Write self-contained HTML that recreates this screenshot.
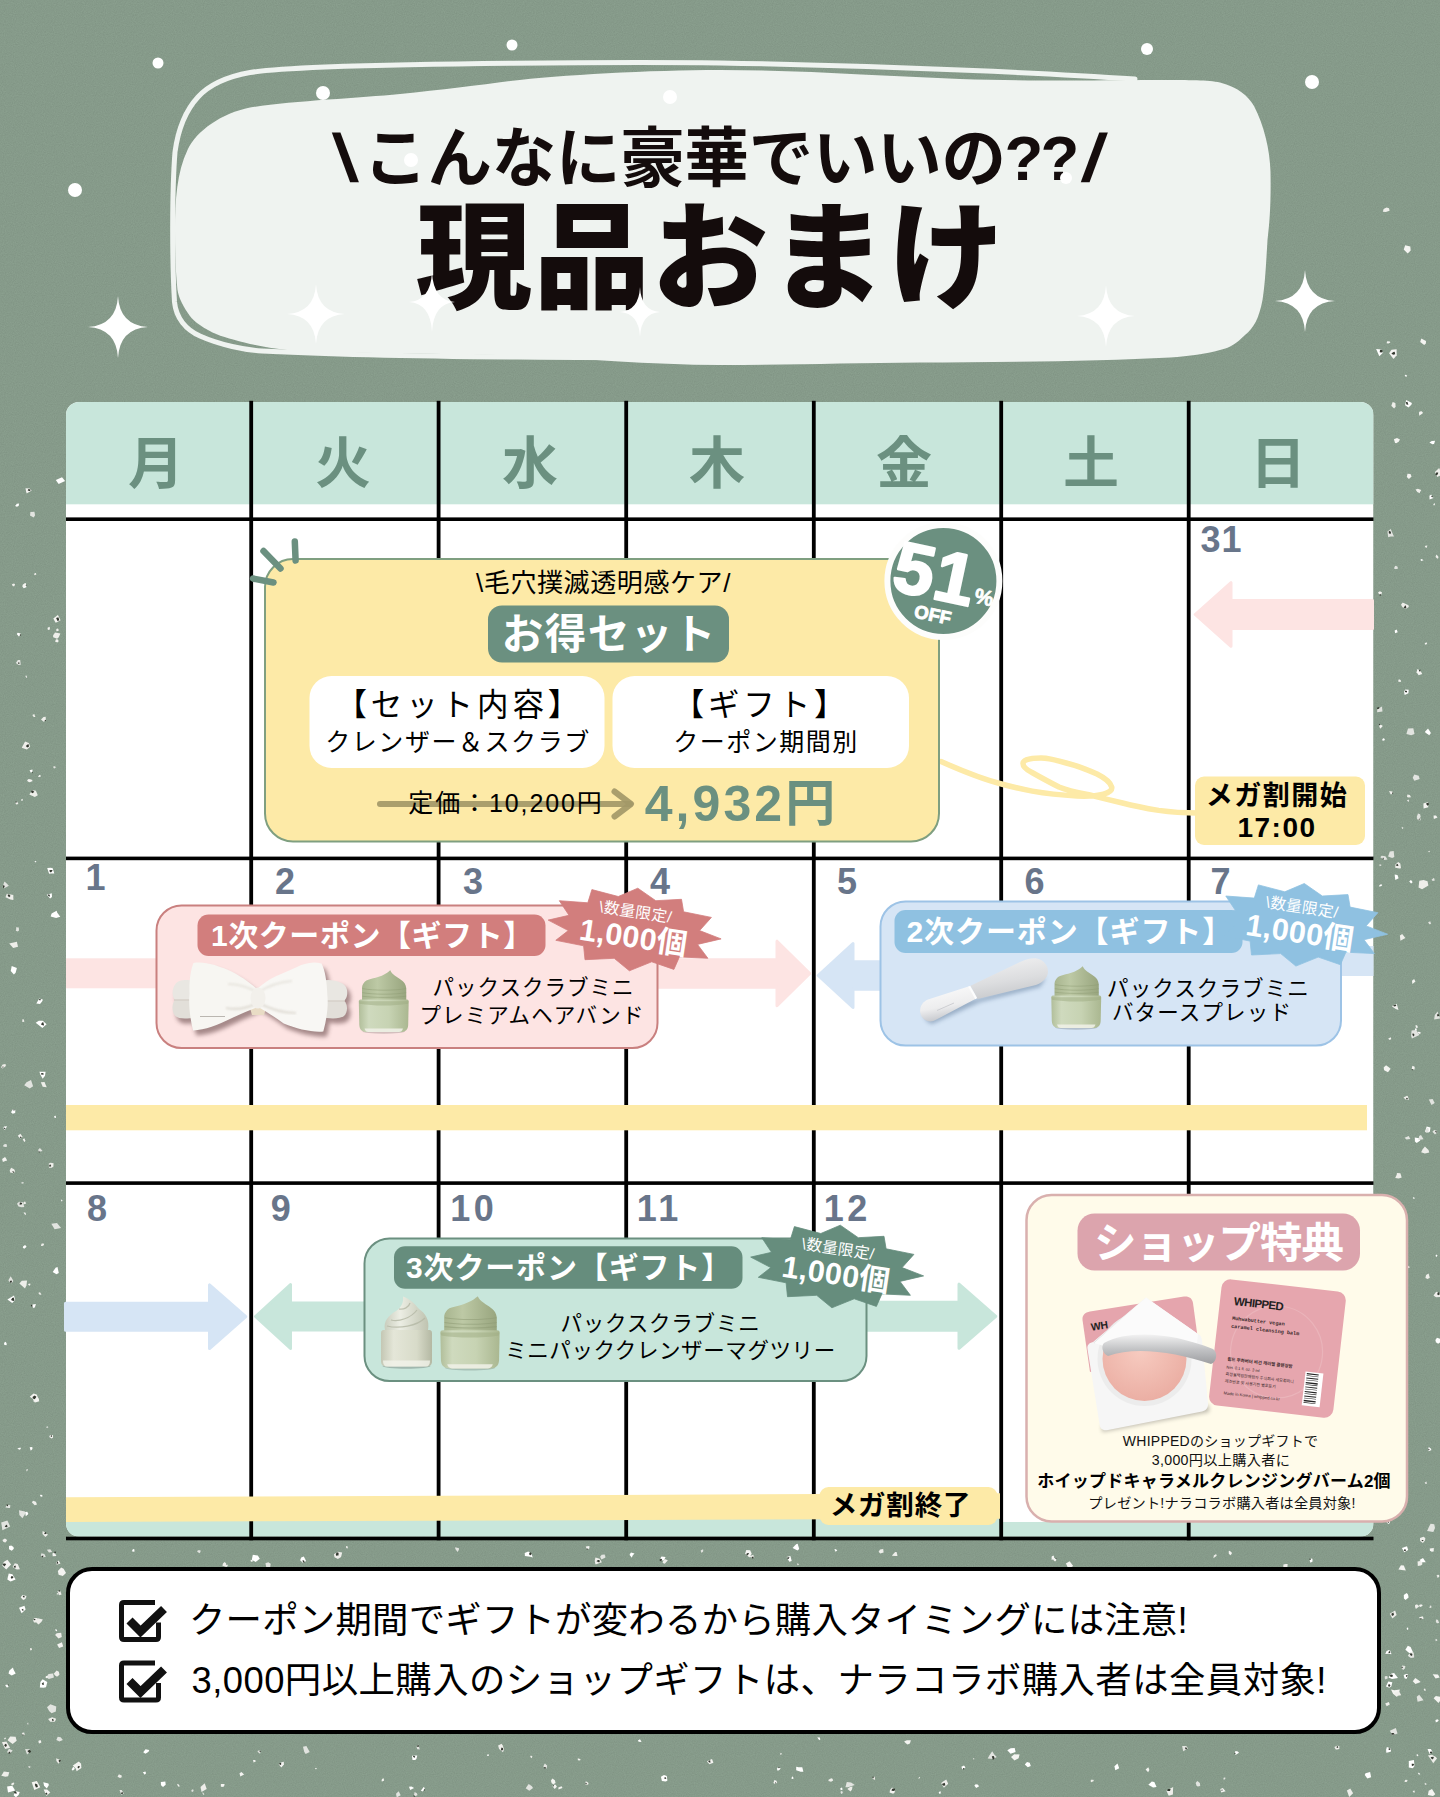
<!DOCTYPE html>
<html lang="ja">
<head>
<meta charset="utf-8">
<title>現品おまけ カレンダー</title>
<style>
html,body{margin:0;padding:0;background:#8a9f8e;}
body{width:1440px;height:1797px;overflow:hidden;}
#stage{position:relative;width:1440px;height:1797px;overflow:hidden;background:#8a9f8e;}
svg{position:absolute;left:0;top:0;display:block;}
text{font-family:"Liberation Sans", "Noto Sans CJK JP", sans-serif;white-space:pre;}
</style>
</head>
<body>
<div id="stage">
<svg width="1440" height="1797" viewBox="0 0 1440 1797">
<defs>
<filter id="grain" x="0" y="0" width="100%" height="100%">
<feTurbulence type="fractalNoise" baseFrequency="0.9" numOctaves="2" seed="3" result="n"/>
<feColorMatrix in="n" type="matrix" values="0 0 0 0 0  0 0 0 0 0  0 0 0 0 0  0.9 0 0 -0.38 0"/>
</filter>
<filter id="soft" x="-20%" y="-20%" width="140%" height="150%">
<feGaussianBlur stdDeviation="2.2"/>
</filter>
<filter id="soft1" x="-20%" y="-20%" width="140%" height="140%">
<feGaussianBlur stdDeviation="0.8"/>
</filter>
</defs>
<rect width="1440" height="1797" fill="#8a9f8e"/>
<rect width="1440" height="1797" fill="#4d6353" opacity="0.10" filter="url(#grain)"/>

<g id="speckles">
<polygon points="33.1,1086.3 29.8,1088.6 24.2,1085.2 26.5,1082.3 31.0,1079.9" fill="#e2e4e0"/>
<polygon points="7.0,1540.8 5.3,1542.4 3.5,1541.9 2.4,1539.9 4.9,1538.4 6.6,1539.5" fill="#eeeeea"/>
<polygon points="32.8,781.1 29.6,782.2 27.8,781.5 27.1,780.2 28.6,778.9 31.4,779.4" fill="#f4f4f1"/>
<polygon points="8.9,885.7 4.3,888.2 2.6,887.1 4.4,881.4 6.2,883.0" fill="#e2e4e0"/>
<polygon points="4.7,886.9 3.1,888.2 2.8,885.6 4.2,885.2" fill="#33382f"/>
<polygon points="65.1,481.1 58.6,484.0 55.8,480.1 62.0,477.3" fill="#ffffff"/>
<polygon points="23.0,800.2 21.7,801.0 21.0,799.7 22.4,798.8" fill="#f4f4f1"/>
<polygon points="13.4,899.9 10.4,899.6 5.5,897.2 6.8,893.7 13.3,895.0" fill="#eeeeea"/>
<polygon points="10.5,895.9 9.1,897.3 7.8,895.8 7.8,894.5 9.3,894.6" fill="#33382f"/>
<polygon points="39.3,1401.2 35.0,1402.4 33.4,1401.3 33.7,1399.1 38.2,1397.7" fill="#f4f4f1"/>
<polygon points="35.6,1401.1 34.4,1401.2 33.9,1400.8 34.2,1399.1 35.1,1400.1" fill="#33382f"/>
<polygon points="42.4,1001.1 40.0,1003.9 36.3,1003.4 39.3,998.5 42.8,999.4" fill="#ffffff"/>
<polygon points="40.7,1000.1 40.0,1000.4 38.9,999.7 39.4,999.0 40.5,998.7" fill="#33382f"/>
<polygon points="19.0,930.5 17.7,931.5 15.8,930.7 16.2,929.2 16.1,927.2 18.8,927.6" fill="#e2e4e0"/>
<polygon points="32.5,1448.9 30.8,1450.7 29.6,1447.2 32.3,1446.9" fill="#ffffff"/>
<polygon points="18.0,946.7 13.2,948.1 9.2,943.4 16.9,941.7" fill="#eeeeea"/>
<polygon points="20.8,664.7 18.6,665.1 15.8,662.9 17.9,660.1 20.2,660.1" fill="#e2e4e0"/>
<polygon points="19.7,663.6 18.7,663.8 18.1,663.7 18.0,662.5 19.3,662.6" fill="#33382f"/>
<polygon points="7.2,1160.6 5.2,1161.1 2.9,1161.9 2.1,1158.9 5.0,1157.1 5.8,1157.9" fill="#f4f4f1"/>
<polygon points="37.0,1504.6 34.7,1505.2 31.8,1502.3 33.2,1500.8 35.9,1501.7" fill="#eeeeea"/>
<polygon points="46.6,1024.3 42.4,1028.0 35.7,1022.8 38.8,1020.7 42.8,1020.7" fill="#ffffff"/>
<polygon points="44.1,1025.5 42.6,1025.2 41.0,1024.6 42.1,1022.6 43.3,1022.3" fill="#33382f"/>
<polygon points="6.7,1344.5 6.4,1345.2 4.1,1344.7 4.1,1342.8 5.6,1341.8 6.5,1342.9" fill="#ffffff"/>
<polygon points="37.8,795.2 34.8,797.1 29.3,794.6 31.0,792.0 32.2,790.1 35.9,790.8" fill="#eeeeea"/>
<polygon points="34.3,791.9 32.3,793.2 31.0,791.9 31.6,790.5 33.0,790.6" fill="#33382f"/>
<polygon points="28.4,1514.0 25.8,1516.2 25.1,1511.9 27.3,1511.7" fill="#ffffff"/>
<polygon points="60.6,620.3 55.7,622.8 53.3,618.6 57.9,615.0" fill="#f4f4f1"/>
<polygon points="59.3,620.2 57.5,620.9 56.1,618.0 58.4,617.2" fill="#33382f"/>
<polygon points="35.3,716.9 33.7,716.9 32.3,714.9 34.3,714.0" fill="#eeeeea"/>
<polygon points="15.0,584.7 14.0,586.6 12.2,585.6 12.0,584.3 13.8,583.6 14.8,583.9" fill="#eeeeea"/>
<polygon points="54.3,873.4 50.9,873.6 49.1,873.8 47.2,868.1 50.9,867.7 52.7,868.2" fill="#ffffff"/>
<polygon points="52.5,870.8 50.9,872.4 49.7,871.7 49.4,870.2 50.6,869.9 52.2,869.9" fill="#33382f"/>
<polygon points="15.6,972.8 13.9,974.4 10.7,971.1 11.7,965.9 16.9,967.9" fill="#ffffff"/>
<polygon points="15.2,1112.9 12.7,1113.7 11.0,1112.2 12.9,1109.2 15.3,1110.0" fill="#ffffff"/>
<polygon points="14.6,1110.2 13.7,1111.1 13.6,1110.0 13.4,1109.3 14.4,1109.6" fill="#33382f"/>
<polygon points="27.2,677.4 26.3,677.9 25.7,676.7 25.2,675.9 26.0,675.5 26.8,675.8" fill="#e2e4e0"/>
<polygon points="26.3,587.2 23.6,588.2 22.4,586.0 24.2,585.1 26.2,584.7" fill="#ffffff"/>
<polygon points="26.5,586.0 25.7,586.1 25.1,585.5 25.4,584.8 26.3,584.6" fill="#33382f"/>
<polygon points="32.5,771.4 30.9,772.7 29.5,770.3 32.5,769.6" fill="#ffffff"/>
<polygon points="32.9,773.0 32.1,773.2 32.1,772.4 32.5,771.7" fill="#33382f"/>
<polygon points="58.8,637.3 57.1,638.7 53.2,637.2 53.0,635.5 55.1,632.4 60.4,633.5" fill="#eeeeea"/>
<polygon points="26.5,1285.2 25.0,1288.6 19.4,1283.4 21.8,1280.8 27.1,1280.6" fill="#eeeeea"/>
<polygon points="41.4,1295.0 39.8,1294.5 39.3,1294.6 38.4,1293.1 39.3,1292.2 40.5,1292.8" fill="#eeeeea"/>
<polygon points="45.0,1075.7 42.7,1078.8 40.3,1074.6 39.4,1071.8 45.6,1071.8" fill="#ffffff"/>
<polygon points="43.8,1074.4 41.5,1074.8 40.9,1073.3 43.2,1073.0" fill="#33382f"/>
<polygon points="26.2,584.9 24.5,587.0 22.5,586.5 22.7,584.7 24.2,583.5 25.8,583.1" fill="#f4f4f1"/>
<polygon points="20.2,635.5 18.9,636.4 16.7,634.1 17.7,632.8 20.7,633.5" fill="#ffffff"/>
<polygon points="21.1,635.2 20.5,635.7 19.8,635.5 19.6,634.9 20.5,634.2 21.1,634.7" fill="#33382f"/>
<polygon points="15.2,1300.1 12.2,1303.0 7.4,1299.6 14.0,1295.6" fill="#ffffff"/>
<polygon points="14.5,1300.4 13.2,1300.9 11.0,1300.1 12.2,1298.0 13.7,1297.4" fill="#33382f"/>
<polygon points="35.0,1307.1 33.8,1308.2 31.7,1305.9 32.6,1304.5 35.9,1303.9" fill="#ffffff"/>
<polygon points="32.8,1306.4 31.3,1306.4 30.8,1304.9 32.1,1304.7" fill="#33382f"/>
<polygon points="13.4,1280.9 11.3,1283.4 8.6,1281.1 8.5,1279.9 10.7,1276.3 12.2,1278.8" fill="#e2e4e0"/>
<polygon points="12.0,1282.0 10.6,1283.2 9.8,1281.1 11.5,1280.6" fill="#33382f"/>
<polygon points="60.3,916.8 56.1,917.9 50.6,916.5 51.6,913.5 56.6,910.8 57.3,912.7" fill="#ffffff"/>
<polygon points="52.0,896.9 50.1,898.6 46.7,894.7 51.8,893.2" fill="#ffffff"/>
<polygon points="50.1,896.2 49.3,896.6 47.9,895.4 48.1,894.5 49.4,894.5" fill="#33382f"/>
<polygon points="58.7,641.3 57.3,642.4 55.0,641.5 56.1,639.2 58.0,639.4" fill="#f4f4f1"/>
<polygon points="28.1,1470.1 26.4,1471.5 26.3,1469.4 27.4,1469.0" fill="#e2e4e0"/>
<polygon points="62.5,1200.9 61.5,1201.6 60.8,1199.5 62.2,1199.9" fill="#ffffff"/>
<polygon points="26.4,1247.0 24.3,1248.7 22.9,1247.7 23.0,1246.6 25.0,1245.1 26.4,1246.3" fill="#ffffff"/>
<polygon points="36.4,574.6 34.7,575.3 34.0,573.9 35.1,572.9 35.8,573.0" fill="#eeeeea"/>
<polygon points="44.1,1245.0 42.4,1245.9 40.9,1246.1 41.6,1243.4 43.7,1243.4" fill="#eeeeea"/>
<polygon points="58.9,630.6 57.8,631.1 56.3,631.3 56.3,628.9 57.6,628.5 58.3,629.1" fill="#eeeeea"/>
<polygon points="23.8,1183.3 21.8,1183.7 21.2,1182.6 23.3,1181.9" fill="#e2e4e0"/>
<polygon points="24.4,1021.7 22.8,1022.0 22.3,1021.9 22.3,1019.8 23.0,1019.1 23.9,1019.7" fill="#eeeeea"/>
<polygon points="55.8,767.6 54.5,768.6 53.6,768.0 53.2,766.4 54.5,766.3 55.2,766.3" fill="#e2e4e0"/>
<polygon points="20.9,1449.0 19.3,1449.7 17.3,1448.5 20.5,1447.5" fill="#ffffff"/>
<polygon points="24.3,1206.9 21.7,1207.2 18.5,1206.5 17.0,1203.8 19.1,1201.7 22.9,1202.2" fill="#e2e4e0"/>
<polygon points="21.9,1204.3 21.0,1204.5 19.6,1204.8 19.8,1202.6 20.7,1202.4 22.1,1203.1" fill="#33382f"/>
<polygon points="61.1,1227.9 54.6,1229.3 51.3,1223.7 57.0,1223.0" fill="#e2e4e0"/>
<polygon points="58.8,1273.0 56.4,1274.2 52.7,1272.1 55.6,1267.8 57.5,1267.1" fill="#ffffff"/>
<polygon points="42.7,1495.9 41.9,1496.7 40.2,1496.3 40.0,1495.4 40.9,1494.4 42.1,1495.3" fill="#ffffff"/>
<polygon points="18.4,803.9 16.1,804.5 15.3,802.4 17.1,801.4" fill="#eeeeea"/>
<polygon points="16.6,802.5 15.8,803.0 15.6,802.5 15.8,801.1 16.4,801.3" fill="#33382f"/>
<polygon points="46.7,1087.3 42.7,1086.7 40.8,1082.2 44.5,1082.0" fill="#eeeeea"/>
<polygon points="25.2,1513.7 22.4,1518.2 19.4,1514.9 19.0,1510.2 25.0,1511.4" fill="#e2e4e0"/>
<polygon points="56.1,1117.7 54.6,1118.0 54.1,1116.1 55.7,1115.7" fill="#ffffff"/>
<polygon points="5.8,1128.5 4.9,1130.0 3.3,1128.3 4.0,1126.4 7.0,1126.3" fill="#ffffff"/>
<polygon points="5.6,1128.4 4.7,1128.9 3.6,1128.4 4.1,1127.8 4.8,1127.8" fill="#33382f"/>
<polygon points="53.3,1166.7 51.7,1167.8 49.0,1167.7 48.8,1163.4 50.7,1162.8 53.6,1163.2" fill="#eeeeea"/>
<polygon points="51.3,1165.9 50.1,1166.8 49.2,1166.5 49.3,1165.1 50.3,1164.3 50.6,1165.1" fill="#33382f"/>
<polygon points="15.1,1171.3 13.8,1173.2 10.2,1172.6 9.7,1170.4 11.1,1167.8 14.1,1169.2" fill="#eeeeea"/>
<polygon points="14.3,1172.1 13.3,1172.9 12.6,1171.9 12.5,1170.9 14.0,1171.7" fill="#33382f"/>
<polygon points="30.4,1284.9 29.2,1285.7 27.9,1284.0 30.2,1283.6" fill="#f4f4f1"/>
<polygon points="47.9,1534.8 45.4,1536.9 42.5,1533.9 42.6,1531.1 46.3,1532.9" fill="#eeeeea"/>
<polygon points="46.8,1533.5 44.9,1534.2 44.2,1533.5 45.3,1532.0 45.9,1532.2" fill="#33382f"/>
<polygon points="30.2,746.7 26.9,749.6 21.7,747.7 25.1,741.4 28.8,742.9" fill="#eeeeea"/>
<polygon points="29.1,746.6 27.2,747.4 25.9,746.1 26.9,745.0 28.4,744.0" fill="#33382f"/>
<polygon points="49.9,629.4 47.9,629.9 47.5,627.7 49.7,626.8" fill="#f4f4f1"/>
<polygon points="22.7,1136.9 20.1,1138.6 17.8,1135.7 20.4,1133.8" fill="#f4f4f1"/>
<polygon points="21.7,1137.8 20.4,1137.9 19.8,1136.9 21.0,1136.4" fill="#33382f"/>
<polygon points="25.5,1141.0 24.2,1142.0 22.8,1139.3 24.3,1138.3" fill="#f4f4f1"/>
<polygon points="36.2,862.2 35.0,862.3 34.5,861.2 36.1,861.0" fill="#ffffff"/>
<polygon points="45.9,720.6 43.6,721.7 41.0,719.5 43.5,717.1 45.7,716.7" fill="#eeeeea"/>
<polygon points="46.0,720.7 45.2,721.2 44.5,720.2 45.7,719.8" fill="#33382f"/>
<polygon points="18.6,506.1 16.9,506.8 15.1,505.9 16.9,503.7 19.1,503.5" fill="#ffffff"/>
<polygon points="42.6,1151.1 38.2,1152.1 38.5,1149.5 39.9,1148.1" fill="#e2e4e0"/>
<polygon points="39.9,1152.3 39.1,1152.6 38.0,1151.4 39.6,1151.5" fill="#33382f"/>
<polygon points="39.0,1400.1 34.7,1401.9 33.0,1398.9 29.8,1396.8 33.5,1393.4 36.7,1394.5" fill="#f4f4f1"/>
<polygon points="35.8,1397.8 34.7,1399.2 32.9,1398.6 32.5,1396.9 34.7,1395.6 36.4,1396.7" fill="#33382f"/>
<polygon points="53.1,1437.4 51.7,1438.5 49.2,1437.0 50.0,1435.1 52.8,1435.1" fill="#f4f4f1"/>
<polygon points="52.1,1436.2 51.4,1437.1 50.7,1436.4 50.6,1435.8 51.4,1435.1 52.0,1435.9" fill="#33382f"/>
<polygon points="26.2,1203.5 23.4,1204.5 23.4,1202.6 25.0,1201.2" fill="#eeeeea"/>
<polygon points="26.1,1214.2 25.2,1214.9 23.5,1212.5 25.3,1212.4" fill="#f4f4f1"/>
<polygon points="5.9,1066.1 2.6,1068.5 1.0,1067.2 2.6,1064.6 5.5,1064.0" fill="#eeeeea"/>
<polygon points="3.6,1067.2 2.6,1067.8 2.3,1067.2 2.6,1066.6 3.4,1066.6" fill="#33382f"/>
<polygon points="41.1,776.2 39.4,777.0 38.0,777.0 39.2,775.1 40.1,775.0" fill="#f4f4f1"/>
<polygon points="52.2,1551.9 48.9,1552.4 46.9,1549.8 50.3,1549.2" fill="#e2e4e0"/>
<polygon points="56.4,1555.9 52.7,1556.3 52.4,1553.5 54.5,1552.4" fill="#f4f4f1"/>
<polygon points="56.0,1552.5 54.6,1553.6 54.2,1552.6 54.7,1551.4 56.1,1551.7" fill="#33382f"/>
<polygon points="10.0,1508.1 8.6,1508.0 5.4,1507.4 7.0,1504.7 10.4,1505.2" fill="#e2e4e0"/>
<polygon points="8.1,1505.3 7.8,1506.2 6.8,1506.0 6.5,1504.6 7.2,1504.5 8.0,1504.4" fill="#33382f"/>
<polygon points="31.7,490.5 26.6,493.4 26.1,491.4 25.5,488.3 29.6,488.5" fill="#f4f4f1"/>
<polygon points="30.2,491.1 29.6,491.1 27.7,490.6 28.2,489.5 28.5,489.0 30.5,489.4" fill="#33382f"/>
<polygon points="7.0,1146.7 5.4,1147.1 3.2,1146.6 3.3,1145.0 5.0,1144.0 6.7,1144.2" fill="#e2e4e0"/>
<polygon points="35.1,515.3 33.7,517.6 30.0,515.4 30.4,512.0 34.4,511.8" fill="#e2e4e0"/>
<polygon points="10.2,1526.5 2.4,1530.3 1.2,1522.5 7.4,1520.4" fill="#e2e4e0"/>
<polygon points="7.6,1526.8 6.4,1527.2 4.7,1526.7 6.0,1525.0 6.9,1524.8" fill="#33382f"/>
<polygon points="48.4,1427.6 46.5,1428.0 46.4,1426.8 47.5,1426.2" fill="#e2e4e0"/>
<polygon points="1402.9,1377.6 1398.6,1380.8 1395.0,1374.7 1399.1,1371.7" fill="#ffffff"/>
<polygon points="1398.3,1501.6 1397.1,1503.2 1395.5,1502.2 1396.6,1500.5 1397.7,1500.0" fill="#e2e4e0"/>
<polygon points="1406.9,376.0 1406.2,377.1 1404.7,375.7 1405.4,374.8 1406.5,374.9" fill="#ffffff"/>
<polygon points="1419.7,779.1 1414.4,780.8 1412.7,777.8 1414.3,774.6 1418.7,775.8" fill="#e2e4e0"/>
<polygon points="1420.8,820.2 1418.1,820.2 1416.7,818.1 1419.7,815.6" fill="#e2e4e0"/>
<polygon points="1420.0,819.2 1418.6,820.3 1418.4,819.0 1419.3,818.0" fill="#33382f"/>
<polygon points="1425.9,343.5 1424.2,345.0 1420.2,342.1 1421.3,338.4 1426.0,340.9" fill="#f4f4f1"/>
<polygon points="1408.4,693.3 1404.7,694.9 1404.0,691.6 1405.4,689.4 1408.7,689.8" fill="#ffffff"/>
<polygon points="1406.8,692.3 1406.1,692.6 1405.1,692.0 1404.9,691.6 1405.4,690.5 1407.1,691.1" fill="#33382f"/>
<polygon points="1434.7,1103.0 1431.5,1105.1 1428.8,1099.4 1432.6,1099.0" fill="#e2e4e0"/>
<polygon points="1437.1,1256.0 1436.9,1256.9 1435.7,1256.2 1435.6,1255.4 1436.4,1254.6 1437.6,1255.4" fill="#ffffff"/>
<polygon points="1390.3,342.4 1388.4,343.5 1386.6,343.2 1387.2,341.2 1387.7,341.2 1389.9,341.4" fill="#f4f4f1"/>
<polygon points="1423.1,413.1 1419.3,415.8 1418.9,412.8 1419.7,411.4 1421.7,411.2" fill="#f4f4f1"/>
<polygon points="1401.0,868.3 1399.4,868.5 1395.2,867.8 1395.5,864.6 1398.1,861.9 1400.3,863.5" fill="#eeeeea"/>
<polygon points="1398.5,865.7 1396.8,866.1 1395.9,865.0 1397.5,863.8" fill="#33382f"/>
<polygon points="1394.9,1220.3 1392.6,1221.7 1389.7,1219.0 1390.9,1217.3 1393.2,1217.0" fill="#f4f4f1"/>
<polygon points="1398.6,878.2 1395.3,879.9 1394.6,874.6 1397.5,874.9" fill="#ffffff"/>
<polygon points="1384.9,739.5 1384.1,740.7 1381.9,740.3 1383.1,738.3 1384.2,738.5" fill="#ffffff"/>
<polygon points="1401.7,1177.6 1398.7,1178.5 1395.2,1178.0 1396.7,1174.8 1397.0,1173.1 1400.4,1173.3" fill="#eeeeea"/>
<polygon points="1428.3,807.3 1423.6,808.4 1423.4,803.5 1428.1,801.9" fill="#f4f4f1"/>
<polygon points="1428.8,804.7 1427.6,805.7 1426.3,804.2 1426.5,803.0 1428.6,802.8" fill="#33382f"/>
<polygon points="1410.4,1139.1 1406.4,1139.5 1404.6,1137.8 1408.7,1135.9" fill="#e2e4e0"/>
<polygon points="1420.7,817.0 1418.4,818.3 1416.6,817.3 1418.0,813.5 1420.1,814.3" fill="#e2e4e0"/>
<polygon points="1426.9,547.2 1426.4,547.9 1424.8,546.8 1425.3,545.8 1427.4,545.4" fill="#eeeeea"/>
<polygon points="1411.4,404.8 1408.5,407.6 1405.1,405.2 1405.4,403.7 1406.2,399.9 1411.9,402.9" fill="#ffffff"/>
<polygon points="1408.4,404.7 1406.4,404.5 1405.9,402.3 1407.4,401.7" fill="#33382f"/>
<polygon points="1423.6,560.3 1421.0,561.1 1420.5,559.5 1421.7,559.1" fill="#ffffff"/>
<polygon points="1426.8,1484.0 1425.5,1484.1 1424.7,1482.4 1426.6,1481.6" fill="#e2e4e0"/>
<polygon points="1414.6,1069.5 1412.9,1069.8 1411.7,1068.8 1412.4,1065.8 1414.7,1066.8" fill="#f4f4f1"/>
<polygon points="1413.5,1070.1 1412.2,1070.2 1411.5,1069.6 1413.0,1069.2" fill="#33382f"/>
<polygon points="1401.0,681.5 1400.3,682.0 1398.1,681.6 1398.6,679.5 1399.9,679.5 1400.9,680.4" fill="#f4f4f1"/>
<polygon points="1420.8,1033.2 1419.5,1033.9 1417.7,1032.8 1418.2,1031.8 1420.3,1032.0" fill="#f4f4f1"/>
<polygon points="1395.6,406.7 1394.1,408.6 1391.3,405.8 1392.7,402.1 1395.4,402.9" fill="#eeeeea"/>
<polygon points="1382.7,352.9 1379.3,356.3 1376.1,348.9 1381.3,349.6" fill="#ffffff"/>
<polygon points="1382.5,352.0 1381.4,352.5 1379.7,352.3 1380.1,349.8 1382.2,350.1" fill="#33382f"/>
<polygon points="1419.6,818.9 1418.1,819.8 1417.7,817.9 1419.3,817.3" fill="#e2e4e0"/>
<polygon points="1415.5,981.5 1412.4,984.1 1412.0,980.7 1414.1,979.1" fill="#f4f4f1"/>
<polygon points="1408.9,801.3 1408.6,802.0 1407.2,800.8 1406.8,800.4 1408.3,799.6 1409.1,800.2" fill="#e2e4e0"/>
<polygon points="1398.5,1010.1 1395.8,1009.0 1392.0,1006.4 1393.6,1005.3 1396.7,1003.8" fill="#f4f4f1"/>
<polygon points="1396.3,1006.0 1394.0,1006.6 1393.1,1005.6 1395.7,1004.6" fill="#33382f"/>
<polygon points="1437.5,817.4 1433.9,819.1 1433.6,817.2 1433.6,815.5 1436.0,815.4" fill="#f4f4f1"/>
<polygon points="1405.6,1293.3 1402.7,1294.7 1402.9,1291.2 1404.9,1290.1" fill="#f4f4f1"/>
<polygon points="1387.5,859.4 1384.2,859.9 1380.4,857.3 1381.5,855.7 1385.4,856.3" fill="#e2e4e0"/>
<polygon points="1383.8,859.0 1382.8,859.9 1382.7,858.1 1383.3,857.5" fill="#33382f"/>
<polygon points="1390.0,1522.8 1388.7,1524.0 1387.1,1522.9 1386.1,1520.8 1387.6,1519.7 1389.7,1519.8" fill="#ffffff"/>
<polygon points="1389.3,1522.3 1388.3,1522.8 1387.9,1522.9 1387.7,1522.0 1388.1,1521.2 1388.9,1521.8" fill="#33382f"/>
<polygon points="1422.2,674.0 1418.6,675.3 1416.6,672.3 1417.4,668.9 1420.5,670.7" fill="#f4f4f1"/>
<polygon points="1420.3,671.4 1419.4,671.5 1418.9,670.2 1420.5,669.6" fill="#33382f"/>
<polygon points="1395.0,1428.4 1394.2,1431.4 1391.2,1429.0 1392.1,1425.2 1396.0,1426.3" fill="#f4f4f1"/>
<polygon points="1408.8,607.1 1405.6,609.1 1402.5,607.2 1401.0,604.8 1402.7,602.5 1408.5,605.3" fill="#eeeeea"/>
<polygon points="1406.3,607.9 1405.6,608.4 1403.6,607.9 1404.9,605.7 1405.9,605.4" fill="#33382f"/>
<polygon points="1425.0,1540.6 1422.9,1543.0 1420.1,1541.1 1420.0,1537.9 1423.5,1536.8 1425.3,1537.9" fill="#eeeeea"/>
<polygon points="1423.7,1540.7 1422.4,1541.3 1421.4,1540.1 1422.8,1539.9" fill="#33382f"/>
<polygon points="1395.1,1250.5 1394.1,1251.0 1392.5,1249.7 1393.7,1248.5 1394.6,1248.5" fill="#ffffff"/>
<polygon points="1410.7,250.5 1407.7,253.6 1403.7,249.4 1405.2,245.3 1410.3,246.5" fill="#f4f4f1"/>
<polygon points="1431.0,924.0 1429.3,924.3 1428.1,922.3 1430.3,921.2" fill="#e2e4e0"/>
<polygon points="1434.8,880.6 1432.8,881.1 1431.5,879.8 1434.0,877.8" fill="#e2e4e0"/>
<polygon points="1399.4,1243.2 1396.0,1247.6 1395.4,1245.2 1394.5,1240.7 1395.5,1240.1 1401.0,1240.7" fill="#f4f4f1"/>
<polygon points="1409.8,1267.6 1408.1,1268.2 1406.9,1267.9 1406.7,1266.6 1407.5,1265.4 1409.4,1266.5" fill="#e2e4e0"/>
<polygon points="1394.0,536.4 1390.5,536.5 1388.2,537.2 1387.4,531.5 1390.8,529.0 1391.8,531.8" fill="#e2e4e0"/>
<polygon points="1391.0,533.0 1390.2,534.0 1388.9,533.3 1388.7,531.8 1389.5,530.8 1390.7,531.8" fill="#33382f"/>
<polygon points="1435.0,1528.1 1433.3,1532.0 1427.1,1530.9 1429.0,1526.8 1430.6,1523.7 1434.3,1524.3" fill="#e2e4e0"/>
<polygon points="1414.5,734.1 1411.2,735.3 1406.4,734.0 1408.0,728.4 1413.3,728.2" fill="#e2e4e0"/>
<polygon points="1430.9,732.9 1429.3,735.2 1426.7,733.5 1424.8,732.0 1428.0,728.6 1429.7,731.1" fill="#ffffff"/>
<polygon points="1400.2,1497.5 1398.9,1498.9 1396.5,1497.0 1397.4,1496.3 1398.3,1494.4 1399.5,1495.6" fill="#eeeeea"/>
<polygon points="1399.3,1495.3 1397.9,1495.9 1397.8,1494.8 1398.6,1494.3" fill="#33382f"/>
<polygon points="1382.5,711.6 1377.1,712.3 1377.3,709.0 1382.0,706.5" fill="#e2e4e0"/>
<polygon points="1379.3,708.4 1377.4,709.3 1376.9,707.7 1379.2,706.9" fill="#33382f"/>
<polygon points="1433.5,498.1 1429.6,499.4 1429.4,495.7 1431.2,494.4" fill="#ffffff"/>
<polygon points="1432.6,497.0 1432.3,497.6 1431.2,496.6 1431.7,495.8 1432.8,496.1" fill="#33382f"/>
<polygon points="1429.8,852.0 1429.1,852.3 1428.1,851.5 1428.9,850.9 1429.6,850.7" fill="#eeeeea"/>
<polygon points="1440.1,1018.4 1434.1,1019.4 1434.8,1015.0 1437.6,1011.5" fill="#e2e4e0"/>
<polygon points="1439.3,1015.7 1437.7,1016.6 1436.9,1015.1 1438.3,1013.6" fill="#33382f"/>
<polygon points="1396.7,355.2 1393.5,358.9 1389.1,353.3 1391.5,349.7 1396.6,349.2" fill="#f4f4f1"/>
<polygon points="1395.2,354.3 1393.2,354.7 1392.7,354.6 1391.4,353.4 1393.4,352.1 1394.7,351.8" fill="#33382f"/>
<polygon points="1429.9,1131.4 1428.5,1132.5 1424.9,1131.9 1426.2,1128.1 1426.7,1126.6 1430.5,1127.5" fill="#ffffff"/>
<polygon points="1381.2,594.4 1381.0,595.2 1379.2,594.3 1378.0,592.4 1379.9,591.3 1382.1,592.4" fill="#f4f4f1"/>
<polygon points="1381.2,595.2 1380.2,595.8 1379.2,595.0 1379.8,594.6 1380.3,593.7 1380.7,594.4" fill="#33382f"/>
<polygon points="1398.8,441.4 1396.4,443.3 1395.1,443.0 1393.9,439.2 1397.0,437.9 1400.0,439.4" fill="#f4f4f1"/>
<polygon points="1440.9,1297.0 1436.0,1297.2 1433.5,1295.5 1436.2,1291.7 1439.4,1292.9" fill="#eeeeea"/>
<polygon points="1439.7,1294.3 1438.8,1295.3 1437.0,1294.2 1438.1,1292.2 1439.2,1292.4" fill="#33382f"/>
<polygon points="1420.3,1140.6 1416.7,1142.9 1414.9,1141.6 1414.8,1137.6 1419.2,1138.3" fill="#ffffff"/>
<polygon points="1418.0,1027.6 1416.3,1028.1 1415.7,1026.9 1415.6,1024.9 1417.2,1025.5" fill="#f4f4f1"/>
<polygon points="1392.8,793.6 1390.9,794.4 1390.2,793.5 1389.0,790.9 1392.5,791.4" fill="#eeeeea"/>
<polygon points="1393.2,793.4 1392.4,794.0 1392.0,792.8 1392.8,792.5" fill="#33382f"/>
<polygon points="1429.8,1277.7 1427.6,1279.0 1425.4,1278.1 1426.1,1275.1 1428.6,1273.6" fill="#eeeeea"/>
<polygon points="1405.4,938.1 1400.4,940.8 1399.9,935.5 1402.2,934.1" fill="#eeeeea"/>
<polygon points="1429.3,1152.6 1424.8,1153.6 1421.1,1152.3 1422.7,1149.3 1424.9,1146.6 1428.5,1150.1" fill="#eeeeea"/>
<polygon points="1441.1,1341.7 1438.1,1343.8 1435.9,1342.3 1435.4,1340.0 1437.0,1337.7 1440.0,1338.8" fill="#ffffff"/>
<polygon points="1438.4,558.0 1437.3,558.8 1436.6,558.1 1435.5,557.1 1436.4,554.5 1438.3,556.4" fill="#eeeeea"/>
<polygon points="1394.3,857.1 1392.1,858.0 1388.1,856.4 1389.8,851.6 1393.7,851.0" fill="#e2e4e0"/>
<polygon points="1391.2,1038.9 1389.8,1040.1 1388.1,1038.7 1389.4,1037.9 1390.7,1037.2" fill="#f4f4f1"/>
<polygon points="1428.8,1131.2 1426.9,1132.7 1424.9,1131.5 1426.9,1127.9 1428.5,1128.3" fill="#e2e4e0"/>
<polygon points="1431.5,1450.1 1428.8,1451.3 1428.0,1448.9 1428.9,1447.1 1430.4,1448.3" fill="#ffffff"/>
<polygon points="1429.5,1449.6 1429.0,1450.2 1428.5,1449.9 1428.2,1448.9 1428.5,1448.7 1429.4,1449.1" fill="#33382f"/>
<polygon points="1437.3,1132.4 1435.0,1134.6 1432.4,1131.8 1434.2,1130.1 1436.4,1130.5" fill="#e2e4e0"/>
<polygon points="1436.7,1132.2 1436.5,1132.9 1435.4,1131.8 1435.2,1130.8 1436.6,1131.3" fill="#33382f"/>
<polygon points="1419.9,492.2 1419.8,493.3 1417.3,491.9 1415.5,489.4 1417.9,488.7 1421.3,489.9" fill="#eeeeea"/>
<polygon points="1434.0,444.0 1432.4,444.3 1429.4,442.4 1431.8,440.9 1435.1,440.8" fill="#ffffff"/>
<polygon points="1382.0,885.8 1379.4,886.8 1379.3,885.3 1381.4,883.9" fill="#ffffff"/>
<polygon points="1435.0,504.6 1434.1,505.6 1433.4,505.0 1433.4,504.3 1434.5,503.3 1435.0,503.5" fill="#f4f4f1"/>
<polygon points="1419.4,1035.1 1411.9,1038.6 1411.1,1035.7 1411.6,1030.5 1416.2,1030.0" fill="#e2e4e0"/>
<polygon points="1414.6,1034.9 1413.1,1036.6 1412.2,1033.7 1413.6,1033.5" fill="#33382f"/>
<polygon points="1390.6,1068.8 1388.0,1072.2 1384.1,1070.3 1383.7,1067.5 1386.0,1065.2 1388.5,1067.0" fill="#f4f4f1"/>
<polygon points="1427.1,643.9 1425.3,644.8 1424.7,643.2 1426.6,642.3" fill="#f4f4f1"/>
<polygon points="1411.0,797.2 1408.7,797.4 1407.0,796.9 1407.4,794.6 1409.9,795.0" fill="#eeeeea"/>
<polygon points="1397.7,632.3 1395.1,633.3 1394.7,630.4 1396.7,629.4" fill="#ffffff"/>
<polygon points="1423.5,1139.2 1418.3,1140.1 1419.2,1135.9 1421.0,1135.0" fill="#e2e4e0"/>
<polygon points="1416.9,1029.3 1416.1,1030.8 1414.9,1029.8 1415.3,1028.2 1416.5,1028.6" fill="#ffffff"/>
<polygon points="1411.6,476.6 1408.9,479.0 1406.8,476.9 1407.5,473.7 1410.5,474.1" fill="#f4f4f1"/>
<polygon points="1409.0,1099.7 1406.2,1099.7 1405.5,1099.4 1403.5,1097.4 1407.0,1095.7 1407.8,1096.2" fill="#eeeeea"/>
<polygon points="1407.9,1098.9 1407.0,1099.5 1405.9,1098.9 1406.7,1097.8 1407.5,1098.1" fill="#33382f"/>
<polygon points="1382.5,726.4 1380.1,728.7 1379.8,727.7 1379.1,725.8 1379.9,724.4 1382.4,725.6" fill="#f4f4f1"/>
<polygon points="1380.5,725.0 1379.1,725.3 1378.8,724.6 1379.6,723.8" fill="#33382f"/>
<polygon points="1381.4,865.6 1379.7,866.3 1379.3,864.4 1381.2,864.5" fill="#e2e4e0"/>
<polygon points="1442.5,474.7 1437.2,477.1 1434.9,472.1 1439.1,468.0" fill="#eeeeea"/>
<polygon points="1437.9,474.3 1436.3,475.4 1435.4,474.4 1436.2,472.6 1438.2,472.5" fill="#33382f"/>
<polygon points="1398.0,568.5 1396.6,569.0 1394.4,569.1 1394.3,567.6 1395.3,565.7 1397.4,566.6" fill="#e2e4e0"/>
<polygon points="1414.8,1198.5 1413.7,1198.9 1412.8,1197.4 1414.1,1197.2" fill="#ffffff"/>
<polygon points="1428.4,885.6 1422.1,889.3 1418.5,887.6 1419.3,880.8 1423.6,880.1 1427.5,881.3" fill="#eeeeea"/>
<polygon points="1389.6,210.7 1385.8,211.9 1382.9,211.7 1383.6,209.1 1386.5,207.4 1389.0,208.3" fill="#eeeeea"/>
<polygon points="1403.4,828.1 1402.4,829.0 1401.5,827.5 1403.0,827.2" fill="#f4f4f1"/>
<polygon points="1412.6,882.2 1411.1,883.4 1409.2,881.5 1410.8,879.9 1411.7,880.7" fill="#ffffff"/>
<polygon points="663.9,1560.2 663.1,1560.2 660.1,1561.1 660.8,1557.4 661.5,1556.4 665.6,1557.0" fill="#ffffff"/>
<polygon points="661.7,1560.3 661.4,1561.4 659.6,1560.6 659.8,1559.3 661.1,1559.1 662.1,1558.8" fill="#33382f"/>
<polygon points="252.8,1561.5 251.5,1561.8 250.9,1561.7 250.5,1559.7 251.3,1560.0 252.7,1560.1" fill="#f4f4f1"/>
<polygon points="1287.5,1566.4 1286.8,1568.8 1283.3,1566.7 1283.4,1564.6 1285.7,1564.1 1287.6,1563.9" fill="#eeeeea"/>
<polygon points="227.8,1566.0 225.4,1567.4 225.7,1565.3 227.5,1564.5" fill="#eeeeea"/>
<polygon points="1054.3,1558.7 1051.7,1560.1 1051.6,1558.1 1051.8,1556.3 1053.8,1555.5" fill="#f4f4f1"/>
<polygon points="666.6,1561.8 664.8,1563.8 662.6,1563.0 663.1,1561.0 664.7,1559.1 667.8,1560.3" fill="#eeeeea"/>
<polygon points="799.0,1564.5 798.0,1565.2 797.0,1564.5 797.3,1563.3 798.5,1563.7" fill="#e2e4e0"/>
<polygon points="1408.2,1549.9 1404.3,1552.2 1401.9,1548.1 1407.0,1546.2" fill="#ffffff"/>
<polygon points="1405.7,1550.9 1405.4,1551.3 1404.5,1550.9 1403.7,1550.2 1405.0,1549.0 1405.9,1550.0" fill="#33382f"/>
<polygon points="632.5,1555.8 631.9,1557.7 630.0,1555.4 629.6,1554.6 631.0,1552.5 634.5,1553.5" fill="#ffffff"/>
<polygon points="306.1,1560.9 303.1,1562.9 300.1,1560.3 301.2,1557.4 303.8,1556.6" fill="#ffffff"/>
<polygon points="304.7,1562.5 303.6,1562.7 302.8,1561.7 302.6,1560.0 304.2,1560.8" fill="#33382f"/>
<polygon points="601.9,1562.2 595.5,1564.4 594.7,1561.1 595.4,1557.6 599.6,1558.7" fill="#eeeeea"/>
<polygon points="599.9,1561.0 599.2,1562.6 596.5,1561.2 597.9,1560.0 599.2,1559.9" fill="#33382f"/>
<polygon points="45.9,1556.7 43.2,1557.2 40.8,1556.0 41.4,1553.3 44.3,1553.9" fill="#e2e4e0"/>
<polygon points="43.3,1556.5 42.6,1557.4 42.1,1557.0 41.4,1556.0 42.6,1555.7 43.2,1555.6" fill="#33382f"/>
<polygon points="11.1,1564.5 6.2,1569.4 2.3,1565.8 3.7,1562.1 7.4,1559.8" fill="#f4f4f1"/>
<polygon points="6.1,1564.5 4.2,1566.4 2.6,1564.2 3.6,1563.6 5.3,1563.5" fill="#33382f"/>
<polygon points="799.2,1549.1 797.5,1550.6 792.6,1547.9 796.1,1544.2 797.7,1543.8" fill="#ffffff"/>
<polygon points="1433.7,1551.6 1431.5,1551.7 1429.9,1550.3 1429.7,1548.4 1433.8,1548.1" fill="#f4f4f1"/>
<polygon points="200.5,1552.1 199.4,1553.3 197.1,1551.6 197.9,1550.3 200.5,1550.2" fill="#e2e4e0"/>
<polygon points="458.9,1549.8 457.6,1552.1 455.3,1548.9 455.2,1547.2 459.0,1548.2" fill="#e2e4e0"/>
<polygon points="1422.2,1564.5 1420.8,1565.5 1417.8,1566.0 1417.5,1561.6 1420.1,1561.0 1422.4,1560.7" fill="#eeeeea"/>
<polygon points="589.4,1548.2 587.2,1549.7 585.7,1546.4 589.4,1546.1" fill="#f4f4f1"/>
<polygon points="587.9,1549.8 587.2,1549.7 586.7,1549.5 586.6,1548.7 586.8,1548.4 587.7,1548.4" fill="#33382f"/>
<polygon points="1216.7,1555.8 1213.4,1558.2 1213.8,1555.6 1216.1,1554.0" fill="#eeeeea"/>
<polygon points="1312.6,1561.6 1310.5,1562.8 1309.6,1560.5 1311.0,1558.6 1312.4,1558.8" fill="#ffffff"/>
<polygon points="1310.7,1559.4 1310.5,1560.1 1309.5,1559.6 1309.2,1559.2 1309.8,1558.6 1310.7,1559.0" fill="#33382f"/>
<polygon points="837.3,1550.6 835.5,1551.7 834.4,1549.0 836.0,1549.2" fill="#ffffff"/>
<polygon points="532.8,1557.4 530.3,1556.7 524.9,1555.9 524.7,1553.1 528.2,1551.4 531.3,1553.4" fill="#ffffff"/>
<polygon points="531.5,1554.1 530.6,1555.2 529.5,1554.9 529.1,1553.5 530.2,1552.3 531.6,1553.2" fill="#33382f"/>
<polygon points="883.6,1552.6 880.3,1553.6 878.6,1551.8 880.1,1549.6 883.2,1549.0" fill="#eeeeea"/>
<polygon points="270.2,1567.3 268.4,1566.9 266.4,1567.7 265.4,1563.3 268.3,1562.3 270.7,1563.7" fill="#e2e4e0"/>
<polygon points="791.7,1560.9 789.3,1561.8 786.6,1557.1 790.4,1556.0" fill="#ffffff"/>
<polygon points="789.2,1558.1 788.4,1558.9 787.1,1558.5 787.2,1557.6 788.2,1557.2 789.5,1557.3" fill="#33382f"/>
<polygon points="1231.9,1553.6 1230.4,1555.2 1228.8,1553.7 1228.7,1551.3 1229.6,1550.8 1231.4,1552.3" fill="#f4f4f1"/>
<polygon points="703.3,1551.2 701.6,1552.9 700.6,1550.4 703.1,1549.3" fill="#e2e4e0"/>
<polygon points="259.8,1558.8 255.7,1562.0 251.8,1559.8 252.8,1554.7 257.8,1555.5" fill="#ffffff"/>
<polygon points="754.4,1557.6 751.6,1557.7 749.3,1556.4 753.2,1554.8" fill="#eeeeea"/>
<polygon points="753.5,1558.2 752.3,1558.4 751.5,1557.0 753.5,1556.4" fill="#33382f"/>
<polygon points="347.9,1547.6 347.2,1548.7 346.0,1547.4 346.1,1546.0 347.5,1546.2" fill="#eeeeea"/>
<polygon points="134.4,1550.4 134.5,1551.8 132.2,1551.5 132.3,1550.0 133.3,1548.9 134.5,1549.4" fill="#ffffff"/>
<polygon points="1073.2,1566.1 1068.5,1569.1 1065.9,1563.6 1069.6,1561.2" fill="#f4f4f1"/>
<polygon points="897.5,1555.9 895.4,1556.1 891.9,1555.8 893.1,1554.2 895.2,1552.1 896.6,1552.1" fill="#eeeeea"/>
<polygon points="1056.1,1560.4 1055.0,1561.6 1053.3,1559.9 1053.1,1557.7 1056.3,1558.4" fill="#f4f4f1"/>
<polygon points="1056.6,1558.9 1055.6,1559.0 1055.1,1558.5 1056.3,1558.0" fill="#33382f"/>
<polygon points="751.7,1553.8 749.5,1557.4 745.1,1553.7 746.3,1550.1 750.2,1550.3" fill="#f4f4f1"/>
<polygon points="748.5,1554.2 747.3,1555.5 746.3,1554.9 746.8,1553.3 749.0,1553.0" fill="#33382f"/>
<polygon points="341.1,1557.0 337.9,1559.0 334.5,1557.3 333.9,1554.2 337.9,1551.7 342.2,1552.5" fill="#eeeeea"/>
<polygon points="338.5,1555.5 337.3,1555.5 336.1,1555.7 335.8,1554.2 336.8,1552.3 338.6,1552.7" fill="#33382f"/>
<polygon points="13.8,1548.7 11.8,1550.8 9.0,1549.2 9.0,1546.1 11.3,1545.6 13.5,1546.9" fill="#ffffff"/>
<polygon points="605.5,1557.5 601.4,1559.6 600.1,1556.7 601.7,1554.8 604.7,1554.4" fill="#e2e4e0"/>
<polygon points="226.1,1566.4 224.9,1566.4 222.4,1565.8 223.0,1563.5 224.6,1562.1 226.2,1563.6" fill="#eeeeea"/>
<polygon points="31.9,1649.5 30.8,1650.7 30.1,1649.5 30.0,1648.4 30.3,1647.9 32.0,1648.4" fill="#eeeeea"/>
<polygon points="37.6,1620.1 35.0,1622.9 33.1,1621.1 34.1,1617.9 37.4,1618.1" fill="#eeeeea"/>
<polygon points="35.3,1620.1 34.6,1620.3 33.6,1619.8 33.6,1619.4 34.4,1618.7 35.3,1619.0" fill="#33382f"/>
<polygon points="25.4,1599.0 23.1,1599.9 20.6,1597.3 22.6,1594.9 26.5,1596.1" fill="#f4f4f1"/>
<polygon points="24.8,1596.8 24.0,1597.8 22.8,1596.7 23.1,1595.8 24.2,1595.9" fill="#33382f"/>
<polygon points="61.8,1636.9 58.5,1638.5 55.1,1634.9 56.7,1633.3 61.2,1632.7" fill="#eeeeea"/>
<polygon points="55.8,1711.5 51.6,1713.2 49.1,1710.9 47.0,1707.2 50.4,1704.2 56.3,1706.4" fill="#e2e4e0"/>
<polygon points="59.5,1674.8 57.0,1676.8 55.2,1675.4 53.7,1673.8 56.6,1670.4 58.9,1671.7" fill="#eeeeea"/>
<polygon points="15.6,1579.5 10.6,1581.4 7.3,1579.6 8.7,1573.6 12.4,1574.3" fill="#ffffff"/>
<polygon points="13.4,1577.7 11.7,1578.7 10.7,1577.8 11.5,1576.0 13.2,1576.6" fill="#33382f"/>
<polygon points="66.0,1573.0 62.8,1576.0 58.6,1574.7 57.9,1570.9 61.2,1567.5 63.6,1568.8" fill="#f4f4f1"/>
<polygon points="15.7,1673.6 11.7,1675.6 8.5,1673.6 9.4,1670.4 12.9,1667.4 13.6,1669.8" fill="#ffffff"/>
<polygon points="30.3,1767.4 29.5,1767.9 28.2,1767.0 28.4,1766.3 30.4,1766.3" fill="#e2e4e0"/>
<polygon points="14.2,1783.9 12.7,1785.6 11.0,1784.4 11.9,1783.0 14.1,1782.6" fill="#eeeeea"/>
<polygon points="58.8,1594.4 57.4,1594.6 56.9,1594.7 56.8,1593.6 57.5,1593.0 58.4,1593.3" fill="#e2e4e0"/>
<polygon points="50.3,1792.3 46.5,1795.9 45.6,1793.9 43.7,1789.4 47.2,1789.5 49.0,1791.2" fill="#f4f4f1"/>
<polygon points="47.6,1794.2 46.3,1794.8 45.2,1793.4 46.6,1792.4" fill="#33382f"/>
<polygon points="11.1,1752.2 9.9,1753.7 7.1,1752.3 7.6,1750.9 9.0,1748.8 12.7,1750.4" fill="#e2e4e0"/>
<polygon points="10.6,1753.5 9.3,1753.7 8.4,1753.4 8.5,1752.7 9.1,1751.6 10.2,1752.3" fill="#33382f"/>
<polygon points="10.1,1747.8 5.2,1749.0 1.9,1742.2 6.4,1741.4" fill="#eeeeea"/>
<polygon points="6.7,1745.8 5.9,1747.0 4.9,1746.3 4.2,1745.2 5.4,1743.7 6.9,1744.7" fill="#33382f"/>
<polygon points="41.3,1621.9 38.5,1624.5 35.8,1621.9 36.4,1620.2 37.8,1618.3 42.9,1619.5" fill="#eeeeea"/>
<polygon points="62.9,1740.0 59.4,1741.4 56.3,1739.9 57.7,1736.8 60.6,1737.3" fill="#e2e4e0"/>
<polygon points="57.3,1631.1 56.0,1631.3 55.0,1629.4 56.4,1629.3" fill="#ffffff"/>
<polygon points="41.4,1742.6 39.1,1743.5 38.4,1741.7 38.8,1740.6 40.8,1740.2" fill="#f4f4f1"/>
<polygon points="5.9,1738.8 4.7,1739.6 4.1,1738.3 5.6,1737.5" fill="#f4f4f1"/>
<polygon points="60.5,1563.6 56.7,1564.8 56.2,1562.5 58.6,1560.5" fill="#f4f4f1"/>
<polygon points="58.3,1563.4 57.4,1563.8 56.5,1563.2 56.8,1562.6 57.2,1561.6 58.0,1562.0" fill="#33382f"/>
<polygon points="28.5,1724.2 27.7,1724.8 27.2,1723.3 28.1,1722.5" fill="#e2e4e0"/>
<polygon points="19.9,1569.2 16.8,1569.4 12.6,1567.1 14.8,1563.3 17.7,1564.1" fill="#eeeeea"/>
<polygon points="15.9,1567.2 14.7,1568.0 13.7,1566.2 15.5,1565.5" fill="#33382f"/>
<polygon points="16.7,1740.8 12.6,1744.0 7.6,1740.2 10.2,1736.5 15.6,1736.8" fill="#eeeeea"/>
<polygon points="24.7,1734.5 23.7,1735.8 21.9,1734.0 22.4,1732.8 24.2,1732.4" fill="#eeeeea"/>
<polygon points="23.6,1735.6 23.2,1735.8 22.7,1735.4 22.5,1734.8 22.9,1734.3 23.5,1734.6" fill="#33382f"/>
<polygon points="53.9,1677.4 48.9,1679.1 46.2,1677.5 48.5,1673.9 53.1,1673.4" fill="#e2e4e0"/>
<polygon points="29.6,1752.6 27.0,1754.6 25.1,1748.9 29.7,1749.2" fill="#e2e4e0"/>
<polygon points="31.1,1751.7 29.6,1753.0 28.2,1752.1 27.4,1751.1 29.4,1749.7 30.1,1750.3" fill="#33382f"/>
<polygon points="48.9,1785.0 46.8,1788.4 44.1,1785.7 43.3,1782.2 48.4,1783.4" fill="#ffffff"/>
<polygon points="63.2,1646.5 59.1,1648.1 57.1,1644.4 61.9,1642.2" fill="#f4f4f1"/>
<polygon points="60.5,1760.8 58.5,1763.7 56.4,1761.0 56.2,1758.2 59.8,1759.8" fill="#eeeeea"/>
<polygon points="60.8,1761.1 59.2,1762.2 58.8,1761.2 58.6,1760.5 59.7,1759.8 60.8,1760.2" fill="#33382f"/>
<polygon points="61.6,1594.6 59.3,1595.3 57.4,1591.1 60.1,1590.8" fill="#eeeeea"/>
<polygon points="59.8,1591.4 59.3,1591.8 58.7,1591.5 58.4,1590.9 59.2,1590.0 60.1,1590.8" fill="#33382f"/>
<polygon points="25.6,1609.6 21.6,1613.3 19.0,1607.7 24.4,1605.7" fill="#ffffff"/>
<polygon points="23.6,1610.4 22.7,1610.7 21.5,1609.8 23.1,1608.8" fill="#33382f"/>
<polygon points="55.1,1721.3 54.5,1721.8 50.3,1721.7 48.1,1718.9 52.2,1717.3 56.2,1718.8" fill="#eeeeea"/>
<polygon points="53.7,1720.8 52.5,1721.2 51.9,1719.3 53.2,1718.8" fill="#33382f"/>
<polygon points="18.6,1795.0 15.9,1797.3 13.6,1795.2 14.5,1793.0 16.0,1791.3 19.8,1791.9" fill="#ffffff"/>
<polygon points="17.0,1793.5 14.7,1793.5 13.7,1791.5 15.9,1791.5" fill="#33382f"/>
<polygon points="47.6,1677.5 46.3,1678.3 45.4,1677.2 46.2,1675.9 47.7,1676.0" fill="#f4f4f1"/>
<polygon points="15.2,1790.6 8.0,1792.4 7.1,1786.6 12.2,1785.7" fill="#ffffff"/>
<polygon points="46.0,1687.2 43.6,1687.7 39.8,1687.5 40.4,1682.0 42.6,1679.3 47.3,1682.1" fill="#ffffff"/>
<polygon points="43.9,1684.7 42.8,1685.0 41.7,1683.8 43.5,1681.9" fill="#33382f"/>
<polygon points="40.3,1787.3 34.3,1789.9 31.7,1782.2 36.9,1781.0" fill="#f4f4f1"/>
<polygon points="37.9,1786.9 35.9,1787.4 35.4,1786.0 34.8,1785.0 35.4,1783.6 37.3,1784.6" fill="#33382f"/>
<polygon points="8.5,1687.1 6.8,1687.4 5.1,1685.1 7.7,1684.4" fill="#ffffff"/>
<polygon points="9.0,1685.2 7.8,1685.3 7.5,1684.4 8.5,1684.4" fill="#33382f"/>
<polygon points="8.1,1776.3 5.5,1776.8 1.3,1775.7 3.9,1771.5 9.3,1772.3" fill="#eeeeea"/>
<polygon points="1414.8,1792.4 1413.5,1792.4 1412.7,1790.9 1414.5,1790.5" fill="#f4f4f1"/>
<polygon points="1391.5,1654.3 1388.1,1653.7 1385.3,1654.0 1386.4,1651.3 1388.6,1650.0 1390.3,1650.7" fill="#ffffff"/>
<polygon points="1390.4,1652.5 1389.3,1653.3 1388.3,1652.9 1388.8,1652.0 1389.0,1650.8 1390.1,1651.7" fill="#33382f"/>
<polygon points="1440.8,1699.9 1438.5,1703.0 1433.6,1698.2 1435.8,1696.0 1440.9,1696.8" fill="#f4f4f1"/>
<polygon points="1419.3,1606.2 1415.9,1609.1 1415.1,1607.1 1415.0,1605.2 1416.2,1604.6 1417.2,1604.5" fill="#eeeeea"/>
<polygon points="1425.9,1690.4 1424.6,1691.1 1423.6,1689.1 1425.1,1688.6" fill="#eeeeea"/>
<polygon points="1405.8,1570.6 1401.8,1570.1 1398.4,1569.6 1400.9,1565.2 1403.9,1565.5" fill="#f4f4f1"/>
<polygon points="1426.6,1784.5 1425.3,1785.0 1424.4,1783.8 1426.0,1782.8" fill="#e2e4e0"/>
<polygon points="1420.3,1774.4 1419.1,1774.6 1418.0,1774.0 1418.7,1772.5 1419.7,1773.4" fill="#ffffff"/>
<polygon points="1437.5,1640.3 1435.7,1641.3 1435.4,1639.3 1436.8,1639.3" fill="#eeeeea"/>
<polygon points="1439.7,1677.5 1435.6,1678.5 1432.7,1674.2 1438.0,1674.6" fill="#f4f4f1"/>
<polygon points="1418.5,1755.8 1417.2,1756.2 1416.5,1755.2 1416.9,1753.9 1417.8,1754.6" fill="#f4f4f1"/>
<polygon points="1396.6,1615.1 1392.4,1618.5 1389.7,1613.7 1395.1,1610.4" fill="#eeeeea"/>
<polygon points="1394.0,1615.0 1392.0,1616.1 1391.3,1613.7 1393.4,1612.6" fill="#33382f"/>
<polygon points="1422.7,1605.7 1420.5,1606.9 1418.9,1605.9 1419.8,1604.5 1422.0,1604.4" fill="#f4f4f1"/>
<polygon points="1437.0,1758.6 1433.2,1763.2 1430.6,1758.9 1427.9,1755.5 1431.9,1754.7 1435.9,1756.9" fill="#eeeeea"/>
<polygon points="1433.8,1757.9 1432.2,1759.4 1430.6,1757.5 1431.4,1756.9 1433.5,1756.7" fill="#33382f"/>
<polygon points="1408.0,1676.0 1406.4,1679.0 1404.5,1678.3 1403.7,1674.9 1406.1,1673.9 1407.6,1673.9" fill="#ffffff"/>
<polygon points="1407.9,1676.0 1406.2,1676.9 1405.8,1675.7 1407.0,1674.8" fill="#33382f"/>
<polygon points="1423.6,1700.3 1417.6,1701.8 1416.7,1696.7 1419.2,1694.7" fill="#e2e4e0"/>
<polygon points="1432.6,1752.0 1429.6,1753.9 1427.5,1749.1 1430.9,1748.9" fill="#ffffff"/>
<polygon points="1432.1,1753.1 1431.3,1753.6 1429.8,1752.9 1430.0,1752.3 1430.6,1751.6 1431.7,1751.4" fill="#33382f"/>
<polygon points="1391.4,1686.3 1389.4,1687.8 1385.9,1686.5 1388.3,1681.4 1392.3,1682.3" fill="#ffffff"/>
<polygon points="1390.5,1685.5 1389.0,1687.2 1387.8,1684.8 1389.8,1684.2" fill="#33382f"/>
<polygon points="1408.3,1629.0 1407.9,1629.9 1406.8,1629.2 1406.8,1628.1 1407.4,1627.4 1408.1,1627.8" fill="#ffffff"/>
<polygon points="1391.0,1751.5 1387.9,1752.4 1386.3,1752.8 1386.1,1749.7 1386.9,1746.9 1390.8,1748.5" fill="#ffffff"/>
<polygon points="1390.4,1749.5 1390.0,1750.1 1388.6,1749.7 1388.6,1748.4 1389.6,1748.2 1390.4,1748.4" fill="#33382f"/>
<polygon points="1397.5,1733.4 1392.6,1735.3 1389.8,1730.7 1395.8,1728.1" fill="#e2e4e0"/>
<polygon points="1394.8,1734.4 1392.0,1734.7 1391.3,1732.9 1393.6,1733.1" fill="#33382f"/>
<polygon points="1439.3,1576.7 1437.6,1577.9 1437.1,1576.3 1436.4,1575.7 1437.8,1574.8 1439.1,1575.0" fill="#eeeeea"/>
<polygon points="1431.5,1607.6 1430.3,1608.1 1429.3,1607.8 1430.2,1605.6 1431.3,1605.8" fill="#e2e4e0"/>
<polygon points="1387.8,1678.2 1385.4,1679.6 1384.7,1678.0 1384.9,1676.2 1387.3,1675.9" fill="#e2e4e0"/>
<polygon points="1439.2,1622.9 1437.2,1623.3 1436.0,1622.3 1435.8,1620.9 1436.5,1619.3 1438.0,1619.9" fill="#e2e4e0"/>
<polygon points="1389.8,1704.4 1386.7,1706.3 1385.2,1703.4 1388.8,1702.1" fill="#eeeeea"/>
<polygon points="1398.7,1693.3 1397.0,1697.1 1393.0,1693.8 1391.0,1689.6 1394.3,1690.2 1399.9,1689.6" fill="#f4f4f1"/>
<polygon points="1414.2,1657.4 1410.9,1658.0 1408.6,1656.5 1407.9,1655.3 1411.3,1652.3 1413.7,1652.5" fill="#e2e4e0"/>
<polygon points="1412.5,1655.0 1411.3,1655.9 1410.0,1654.7 1410.3,1653.2 1411.9,1653.6" fill="#33382f"/>
<polygon points="1404.9,1668.4 1403.1,1669.9 1401.6,1668.2 1402.0,1665.6 1405.4,1665.9" fill="#e2e4e0"/>
<polygon points="1402.7,1667.5 1402.1,1668.3 1401.6,1668.1 1401.5,1667.2 1402.0,1666.7 1403.1,1666.9" fill="#33382f"/>
<polygon points="1401.2,1695.3 1396.1,1695.9 1394.1,1692.7 1399.1,1691.3" fill="#eeeeea"/>
<polygon points="1420.7,1681.9 1415.4,1684.1 1412.8,1681.3 1415.3,1678.0 1418.6,1680.3" fill="#f4f4f1"/>
<polygon points="1407.1,1781.5 1406.5,1781.9 1404.5,1782.1 1404.9,1780.2 1405.6,1779.7 1407.6,1779.9" fill="#eeeeea"/>
<polygon points="1425.8,1562.3 1421.9,1562.3 1419.5,1559.9 1423.0,1558.0" fill="#ffffff"/>
<polygon points="1408.6,1597.6 1405.5,1600.1 1403.9,1598.6 1403.8,1595.0 1406.7,1592.9 1408.0,1594.6" fill="#ffffff"/>
<polygon points="1438.4,1721.0 1437.1,1721.9 1435.8,1722.3 1435.4,1720.3 1437.1,1719.2 1438.6,1720.0" fill="#ffffff"/>
<polygon points="1414.5,1766.0 1412.8,1768.2 1408.8,1767.4 1408.8,1760.9 1413.9,1759.9" fill="#ffffff"/>
<polygon points="1414.4,1764.9 1411.9,1766.3 1411.7,1763.7 1413.5,1763.8" fill="#33382f"/>
<polygon points="1413.1,1652.5 1409.2,1652.9 1405.4,1649.8 1407.8,1645.7 1410.6,1647.1" fill="#ffffff"/>
<polygon points="1398.0,1677.9 1392.1,1679.0 1388.5,1677.6 1391.4,1673.6 1394.1,1673.0" fill="#ffffff"/>
<polygon points="1393.1,1676.2 1391.4,1677.0 1390.2,1676.5 1389.7,1675.4 1391.4,1674.6 1392.4,1674.8" fill="#33382f"/>
<polygon points="1435.3,1794.2 1433.0,1796.1 1427.9,1795.0 1428.7,1790.7 1432.0,1789.0 1434.0,1792.3" fill="#f4f4f1"/>
<polygon points="1423.8,1618.4 1421.1,1619.2 1418.8,1617.4 1422.6,1616.3" fill="#f4f4f1"/>
<polygon points="1421.5,1619.2 1420.9,1619.4 1420.4,1619.2 1420.2,1618.9 1420.7,1617.9 1421.6,1618.2" fill="#33382f"/>
<polygon points="641.6,1742.1 638.7,1741.8 637.9,1740.4 640.0,1739.3" fill="#ffffff"/>
<polygon points="74.7,1769.0 72.9,1770.4 71.7,1770.0 72.2,1768.4 73.2,1766.8 74.6,1767.9" fill="#ffffff"/>
<polygon points="1018.6,1758.3 1014.5,1760.4 1011.0,1756.9 1014.2,1754.3 1019.6,1754.5" fill="#f4f4f1"/>
<polygon points="316.9,1768.9 315.8,1769.3 314.8,1768.4 316.2,1767.8" fill="#f4f4f1"/>
<polygon points="121.7,1777.3 120.0,1778.1 117.5,1776.7 118.9,1774.2 121.7,1775.5" fill="#eeeeea"/>
<polygon points="974.4,1759.3 973.3,1759.5 973.0,1758.6 974.0,1758.1" fill="#e2e4e0"/>
<polygon points="875.2,1779.4 874.2,1779.8 872.1,1778.0 874.6,1776.6" fill="#eeeeea"/>
<polygon points="873.5,1777.7 873.2,1778.5 872.5,1777.8 872.4,1777.1 872.9,1776.6 873.9,1777.0" fill="#33382f"/>
<polygon points="1353.1,1793.3 1349.2,1797.0 1346.9,1790.6 1350.3,1788.4" fill="#eeeeea"/>
<polygon points="165.7,1784.8 163.0,1787.0 161.0,1785.2 160.8,1781.9 165.3,1781.6" fill="#ffffff"/>
<polygon points="588.6,1784.0 587.5,1784.7 585.5,1785.0 585.3,1783.1 585.8,1781.2 588.1,1782.5" fill="#eeeeea"/>
<polygon points="586.8,1784.2 586.0,1784.2 585.4,1784.2 585.5,1783.0 585.9,1782.7 586.5,1782.9" fill="#33382f"/>
<polygon points="204.3,1794.4 203.2,1794.7 202.2,1792.5 203.3,1792.8" fill="#eeeeea"/>
<polygon points="1225.6,1791.2 1221.3,1792.6 1220.3,1789.0 1222.8,1787.9" fill="#f4f4f1"/>
<polygon points="1222.6,1790.6 1221.8,1790.7 1221.1,1789.9 1222.4,1789.6" fill="#33382f"/>
<polygon points="193.6,1791.0 192.3,1791.9 191.2,1791.1 191.6,1790.3 192.0,1789.6 193.3,1789.6" fill="#e2e4e0"/>
<polygon points="1371.1,1777.3 1367.3,1778.4 1364.8,1775.1 1365.5,1773.2 1370.1,1771.9" fill="#ffffff"/>
<polygon points="419.8,1749.5 417.3,1749.2 416.5,1747.1 418.4,1744.5" fill="#e2e4e0"/>
<polygon points="418.7,1746.8 418.4,1747.0 417.4,1746.7 416.8,1746.0 418.0,1745.3 418.8,1745.1" fill="#33382f"/>
<polygon points="793.6,1778.6 792.6,1779.1 791.4,1778.4 792.0,1776.8 792.9,1776.6" fill="#ffffff"/>
<polygon points="1339.3,1749.0 1337.1,1749.6 1335.7,1749.5 1334.3,1747.1 1337.0,1745.7 1339.3,1745.9" fill="#eeeeea"/>
<polygon points="1338.4,1747.3 1337.2,1747.9 1336.3,1747.1 1337.7,1746.1" fill="#33382f"/>
<polygon points="820.3,1739.2 819.9,1740.2 818.4,1739.2 817.3,1737.2 819.2,1737.4 819.7,1737.3" fill="#ffffff"/>
<polygon points="940.8,1793.4 939.2,1793.7 938.7,1792.0 940.6,1791.3" fill="#ffffff"/>
<polygon points="996.7,1756.9 993.4,1759.0 987.7,1758.4 989.3,1755.4 992.2,1751.2 994.1,1754.2" fill="#e2e4e0"/>
<polygon points="994.7,1758.3 992.9,1759.9 991.8,1756.3 993.7,1756.0" fill="#33382f"/>
<polygon points="283.9,1764.4 281.3,1767.6 278.7,1764.2 281.1,1762.6 283.8,1761.7" fill="#f4f4f1"/>
<polygon points="281.3,1764.0 280.8,1765.1 279.2,1764.3 279.5,1763.0 281.0,1762.9" fill="#33382f"/>
<polygon points="842.9,1793.0 841.2,1794.1 840.4,1791.7 842.2,1790.8" fill="#e2e4e0"/>
<polygon points="833.2,1780.6 831.1,1781.8 828.5,1780.9 828.5,1779.7 831.2,1778.3 832.5,1778.8" fill="#eeeeea"/>
<polygon points="580.6,1759.9 579.5,1760.6 577.9,1760.2 577.7,1758.5 578.9,1758.6 580.4,1759.2" fill="#f4f4f1"/>
<polygon points="81.4,1767.9 76.6,1771.2 75.9,1768.7 72.8,1765.6 78.8,1761.4 81.1,1763.8" fill="#f4f4f1"/>
<polygon points="79.6,1767.2 78.2,1768.6 77.6,1767.8 77.8,1766.4 78.6,1766.1 79.6,1766.0" fill="#33382f"/>
<polygon points="667.4,1780.7 665.6,1781.4 661.9,1781.1 660.9,1776.7 664.0,1775.0 666.8,1776.0" fill="#ffffff"/>
<polygon points="666.4,1778.5 665.1,1779.1 664.3,1778.6 664.8,1777.0 665.9,1777.4" fill="#33382f"/>
<polygon points="416.4,1758.9 415.2,1760.1 412.5,1760.0 412.0,1755.7 415.3,1755.5 417.3,1755.6" fill="#ffffff"/>
<polygon points="415.2,1757.0 414.6,1757.7 413.7,1757.2 412.9,1756.8 413.8,1755.6 415.1,1756.4" fill="#33382f"/>
<polygon points="1188.0,1748.6 1183.2,1751.2 1182.1,1746.1 1186.3,1746.0" fill="#e2e4e0"/>
<polygon points="1187.5,1749.2 1185.5,1749.3 1185.0,1747.7 1186.1,1747.3" fill="#33382f"/>
<polygon points="424.3,1789.6 422.6,1791.4 420.8,1790.6 422.0,1789.3 423.6,1787.0 424.8,1788.1" fill="#ffffff"/>
<polygon points="425.0,1790.3 424.3,1790.7 423.8,1789.4 424.7,1789.3" fill="#33382f"/>
<polygon points="260.4,1752.7 260.0,1753.8 257.8,1752.0 257.5,1751.1 258.7,1750.4 260.5,1750.7" fill="#e2e4e0"/>
<polygon points="261.1,1751.6 260.1,1752.2 259.7,1751.8 259.5,1750.9 260.2,1750.7 260.5,1751.2" fill="#33382f"/>
<polygon points="532.2,1757.0 531.6,1758.2 530.7,1757.4 530.2,1756.3 531.0,1755.5 532.4,1756.4" fill="#eeeeea"/>
<polygon points="555.6,1783.1 553.3,1784.3 551.7,1783.3 550.9,1780.7 552.3,1778.4 554.9,1780.2" fill="#f4f4f1"/>
<polygon points="400.7,1795.2 396.7,1797.4 396.0,1793.7 398.7,1791.2" fill="#e2e4e0"/>
<polygon points="123.9,1793.6 121.3,1794.8 119.5,1789.9 121.7,1790.0" fill="#e2e4e0"/>
<polygon points="122.9,1793.7 122.0,1793.9 121.0,1793.7 121.1,1793.1 121.9,1792.3 123.1,1792.5" fill="#33382f"/>
<polygon points="1200.2,1786.0 1197.9,1786.4 1196.7,1786.1 1195.6,1783.0 1197.3,1781.0 1199.9,1782.9" fill="#e2e4e0"/>
<polygon points="920.1,1778.1 918.5,1778.8 918.5,1777.9 919.7,1776.7" fill="#f4f4f1"/>
<polygon points="713.4,1762.8 709.4,1764.2 706.9,1761.3 712.0,1759.0" fill="#f4f4f1"/>
<polygon points="710.4,1762.5 710.1,1762.8 708.6,1761.9 708.4,1761.1 709.4,1760.4 710.2,1760.2" fill="#33382f"/>
<polygon points="504.0,1749.5 503.0,1752.2 499.1,1749.0 498.1,1745.4 501.6,1743.8 502.8,1745.6" fill="#eeeeea"/>
<polygon points="503.3,1749.5 502.1,1750.4 501.0,1750.3 501.2,1748.6 501.5,1747.5 502.8,1748.0" fill="#33382f"/>
<polygon points="894.6,1792.5 893.1,1793.8 889.6,1792.6 890.0,1790.0 892.1,1787.6 895.2,1790.1" fill="#f4f4f1"/>
<polygon points="895.2,1790.2 893.7,1791.0 891.5,1790.8 892.1,1788.7 894.8,1788.6" fill="#33382f"/>
<polygon points="803.4,1771.7 800.6,1771.7 796.2,1770.2 796.2,1766.7 798.6,1767.3 802.3,1767.2" fill="#ffffff"/>
<polygon points="854.8,1785.0 848.1,1787.2 845.4,1787.2 846.8,1782.0 851.1,1782.5" fill="#e2e4e0"/>
<polygon points="979.1,1786.3 976.2,1787.9 974.3,1785.6 975.7,1784.3 977.7,1784.5" fill="#ffffff"/>
<polygon points="1149.4,1770.1 1148.1,1772.3 1145.6,1769.5 1148.3,1767.3" fill="#f4f4f1"/>
<polygon points="1156.6,1786.9 1153.1,1787.5 1148.3,1784.7 1151.8,1781.6 1154.3,1782.1" fill="#ffffff"/>
<polygon points="1015.6,1751.9 1010.6,1753.7 1007.3,1750.3 1010.6,1748.2 1014.7,1748.1" fill="#ffffff"/>
<polygon points="909.9,1743.6 907.5,1744.6 905.8,1743.2 904.1,1741.6 906.8,1740.3 910.9,1740.2" fill="#f4f4f1"/>
<polygon points="1225.4,1778.8 1223.8,1779.9 1223.4,1777.9 1225.1,1777.2" fill="#e2e4e0"/>
<polygon points="148.6,1751.8 145.5,1753.7 143.2,1752.3 144.6,1750.6 145.5,1749.2 149.2,1749.9" fill="#ffffff"/>
<polygon points="1093.8,1781.1 1091.3,1782.2 1090.6,1781.3 1090.9,1779.7 1093.4,1779.8" fill="#eeeeea"/>
<polygon points="547.0,1766.8 546.2,1769.0 543.4,1766.8 543.9,1765.0 544.9,1763.5 547.1,1765.5" fill="#e2e4e0"/>
<polygon points="545.9,1768.2 545.2,1768.7 544.1,1767.9 544.2,1767.2 545.0,1766.9 545.7,1767.3" fill="#33382f"/>
<polygon points="556.9,1786.8 554.6,1788.9 552.6,1786.3 553.1,1784.7 555.7,1784.8" fill="#f4f4f1"/>
<polygon points="554.1,1786.1 553.4,1786.6 553.2,1786.4 553.0,1785.6 553.6,1785.1 553.9,1785.3" fill="#33382f"/>
<polygon points="488.8,1755.9 487.6,1756.0 486.8,1755.1 488.5,1754.0" fill="#ffffff"/>
<polygon points="224.0,1786.5 222.0,1787.1 220.9,1786.5 220.8,1784.0 224.6,1784.0" fill="#f4f4f1"/>
<polygon points="244.1,1774.5 240.3,1776.5 239.5,1773.3 241.5,1772.0" fill="#f4f4f1"/>
<polygon points="1030.8,1765.9 1027.8,1767.2 1024.8,1764.4 1027.0,1762.0 1029.7,1762.8" fill="#ffffff"/>
<polygon points="256.0,1761.2 253.6,1762.5 253.0,1760.1 255.0,1760.0" fill="#f4f4f1"/>
<polygon points="781.8,1754.1 781.0,1754.8 779.8,1754.2 780.9,1752.7 781.5,1753.3" fill="#eeeeea"/>
<polygon points="414.1,1788.1 410.2,1790.0 409.0,1786.8 411.5,1786.4" fill="#ffffff"/>
<polygon points="206.7,1788.9 201.5,1791.9 200.5,1787.1 204.7,1783.2" fill="#eeeeea"/>
<polygon points="146.1,1773.2 144.7,1774.7 142.8,1772.3 145.4,1771.5" fill="#ffffff"/>
<polygon points="965.4,1768.1 963.7,1768.7 962.3,1769.6 961.4,1766.7 964.0,1765.4 965.0,1766.8" fill="#ffffff"/>
<polygon points="964.5,1769.0 963.7,1769.6 962.6,1769.3 963.2,1768.3 964.0,1768.0" fill="#33382f"/>
<polygon points="179.8,1786.4 178.1,1786.4 177.0,1784.1 178.9,1784.4" fill="#f4f4f1"/>
<polygon points="777.2,1783.1 774.6,1783.7 773.4,1782.9 774.4,1780.0 776.5,1780.8" fill="#f4f4f1"/>
<polygon points="776.2,1783.3 775.4,1783.6 775.2,1782.7 776.0,1781.9" fill="#33382f"/>
<polygon points="562.5,1788.1 558.5,1789.6 558.3,1787.6 561.6,1786.2" fill="#f4f4f1"/>
<polygon points="852.0,1789.4 850.5,1791.5 849.0,1790.3 847.3,1789.1 850.0,1786.9 852.5,1786.5" fill="#eeeeea"/>
<polygon points="779.9,1769.4 778.5,1770.4 777.2,1770.5 777.1,1768.1 778.0,1767.4 780.6,1768.1" fill="#ffffff"/>
<polygon points="779.7,1767.9 778.6,1768.3 778.4,1767.0 779.1,1766.9" fill="#33382f"/>
<polygon points="842.7,1789.6 840.7,1790.3 840.3,1788.3 841.9,1787.4" fill="#ffffff"/>
<polygon points="1239.0,1752.8 1235.5,1754.9 1234.8,1752.3 1235.5,1751.1 1237.9,1751.4" fill="#ffffff"/>
<polygon points="1235.5,1753.7 1234.6,1754.2 1234.4,1753.1 1235.3,1752.8" fill="#33382f"/>
<polygon points="948.2,1783.7 943.9,1787.7 941.1,1783.0 942.8,1781.7 946.3,1779.4" fill="#eeeeea"/>
<polygon points="945.4,1785.6 943.4,1785.7 941.8,1784.0 944.7,1782.8" fill="#33382f"/>
<polygon points="384.0,1780.7 381.8,1781.5 381.6,1780.4 382.0,1779.0 383.7,1778.3" fill="#f4f4f1"/>
<polygon points="309.7,1752.1 305.6,1753.9 304.1,1751.5 303.0,1746.8 306.4,1745.9 307.5,1748.1" fill="#e2e4e0"/>
<polygon points="417.5,1795.0 415.4,1796.2 413.9,1795.5 414.6,1791.9 416.8,1793.3" fill="#e2e4e0"/>
<polygon points="415.3,1796.3 414.5,1796.7 413.1,1796.0 413.6,1795.5 415.1,1795.7" fill="#33382f"/>
<polygon points="1172.9,1794.5 1168.7,1795.7 1166.4,1790.7 1173.1,1786.9" fill="#eeeeea"/>
<polygon points="1170.0,1791.0 1168.7,1790.9 1167.1,1790.9 1167.9,1789.1 1170.6,1788.9" fill="#33382f"/>
<polygon points="1119.2,1768.3 1115.3,1770.3 1114.4,1766.3 1117.5,1763.6" fill="#ffffff"/>
<polygon points="533.0,1788.0 529.3,1790.8 525.7,1788.3 528.6,1784.1 531.7,1786.1" fill="#e2e4e0"/>
</g>
<g id="title">
<path d="M1135,79 C1060,74 900,66 720,63 C600,61.5 420,64 325,67 C290,68.5 265,70 250,72.5 C225,77 208,86 198,97 C186,110 178,130 175,152 C172,190 172,260 174.5,302 C176,318 186,330 200,336 C220,345 245,350 262,351 C400,358 620,358 820,358" fill="none" stroke="#eff3f0" stroke-width="5" stroke-linecap="round" stroke-linejoin="round"/>
<path d="M175,230 C175,200 177,172 187.5,150 C196,131 222,113 250,107.5 C290,101 360,98 400,94 C440,90 480,85 510,81 C560,75 650,70 720,70 C800,70 880,76 960,79 C1040,81.5 1120,80 1160,80 C1190,80 1208,80 1220,82.5 C1238,87 1248,96 1254,106 C1264,125 1270,150 1270.5,172 C1271,200 1270,220 1267.5,240 C1266,265 1265,285 1262.5,300 C1259,318 1254,328 1245,335 C1237,343 1230,348 1220,350 C1205,354 1190,356 1170,357.5 C1100,361 1000,362.5 920,362.5 C850,363 790,365 720,365 C650,365 580,358 510,355.5 C440,353 360,354 300,351 C280,350 265,347 250,344 C235,340 222,337 212.5,332.5 C200,326 192,320 187.5,312.5 C182,304 179,298 177.5,290 C175.5,272 175,250 175,230Z" fill="#eff3f0"/>
<g transform="translate(345.4 156.5) skewX(9) scale(1.2 1.08) translate(-345.4 -156.5)">
<text x="345.4" y="178.8" font-size="62" font-weight="700" fill="#140c0c" text-anchor="middle">\</text>
</g>
<text x="363.2" y="181.2" font-size="64.5" font-weight="700" fill="#140c0c" text-anchor="start" letter-spacing="-0.25">こんなに豪華でいいの</text>
<text x="1040.5" y="180.2" font-size="63.5" font-weight="700" fill="#140c0c" text-anchor="middle" letter-spacing="-2.8">??</text>
<g transform="translate(1094.5 156.5) skewX(-9) scale(1.2 1.08) translate(-1094.5 -156.5)">
<text x="1094.5" y="178.8" font-size="62" font-weight="700" fill="#140c0c" text-anchor="middle">/</text>
</g>
<text x="711.0" y="298.8" font-size="116" font-weight="900" fill="#140c0c" text-anchor="middle" letter-spacing="2">現品おまけ</text>
<path d="M118,296.0 Q119.65,325.295 148.0,327 Q119.65,328.705 118,358.0 Q116.35,328.705 88.0,327 Q116.35,325.295 118,296.0Z" fill="#fff"/>
<path d="M316,284.0 Q317.595,312.35 345.0,314 Q317.595,315.65 316,344.0 Q314.405,315.65 287.0,314 Q314.405,312.35 316,284.0Z" fill="#fff"/>
<path d="M432,272.0 Q433.265,300.35 455.0,302 Q433.265,303.65 432,332.0 Q430.735,303.65 409.0,302 Q430.735,300.35 432,272.0Z" fill="#fff"/>
<path d="M640,287.0 Q641.1,310.625 660.0,312 Q641.1,313.375 640,337.0 Q638.9,313.375 620.0,312 Q638.9,310.625 640,287.0Z" fill="#fff"/>
<path d="M1106,285.0 Q1107.595,314.295 1135.0,316 Q1107.595,317.705 1106,347.0 Q1104.405,317.705 1077.0,316 Q1104.405,314.295 1106,285.0Z" fill="#fff"/>
<path d="M1305,270.0 Q1306.65,299.295 1335.0,301 Q1306.65,302.705 1305,332.0 Q1303.35,302.705 1275.0,301 Q1303.35,299.295 1305,270.0Z" fill="#fff"/>
<circle cx="158" cy="63" r="5.5" fill="#fff"/>
<circle cx="512" cy="45" r="5.5" fill="#fff"/>
<circle cx="75" cy="190" r="7" fill="#fff"/>
<circle cx="323" cy="93" r="7" fill="#fff"/>
<circle cx="670" cy="97" r="7" fill="#fff"/>
<circle cx="411" cy="160" r="7" fill="#fff"/>
<circle cx="1147" cy="49" r="6" fill="#fff"/>
<circle cx="1312" cy="82" r="7" fill="#fff"/>
<circle cx="1066" cy="178" r="6" fill="#fff"/>
</g>
<g id="calendar">
<clipPath id="calclip"><rect x="66" y="402" width="1307.5" height="1134.5" rx="13" ry="13"/></clipPath>
<g clip-path="url(#calclip)">
<rect x="66" y="402" width="1307.5" height="1134.5" fill="#fff"/>
<rect x="66" y="402" width="1307.5" height="102.30000000000001" fill="#c8e6db"/>
<rect x="66" y="1518" width="934" height="24" fill="#c8e6db"/>
<rect x="1000" y="1522" width="373.5" height="20" fill="#c8e6db"/>
</g>
<text x="156.0" y="482.5" font-size="56" font-weight="700" fill="#6b9080" text-anchor="middle">月</text>
<text x="343.0" y="482.5" font-size="56" font-weight="700" fill="#6b9080" text-anchor="middle">火</text>
<text x="530.0" y="482.5" font-size="56" font-weight="700" fill="#6b9080" text-anchor="middle">水</text>
<text x="717.0" y="482.5" font-size="56" font-weight="700" fill="#6b9080" text-anchor="middle">木</text>
<text x="904.0" y="482.5" font-size="56" font-weight="700" fill="#6b9080" text-anchor="middle">金</text>
<text x="1091.0" y="482.5" font-size="56" font-weight="700" fill="#6b9080" text-anchor="middle">土</text>
<text x="1278.0" y="482.5" font-size="56" font-weight="700" fill="#6b9080" text-anchor="middle">日</text>
</g>
<g id="grid" fill="#000">
<rect x="249.3" y="400.8" width="3.8" height="1139.5"/>
<rect x="436.7" y="400.8" width="3.8" height="1139.5"/>
<rect x="624.3" y="400.8" width="3.8" height="1139.5"/>
<rect x="811.9" y="400.8" width="3.8" height="1139.5"/>
<rect x="999.3" y="400.8" width="3.8" height="1139.5"/>
<rect x="1186.8" y="400.8" width="3.8" height="1139.5"/>
<rect x="66" y="517.4" width="1307.5" height="3.6"/>
<rect x="66" y="856.6" width="1307.5" height="3.6"/>
<rect x="66" y="1181.3" width="1307.5" height="3.6"/>
<rect x="66" y="1536.7" width="1307.5" height="3.6"/>
</g>
<text x="1221.5" y="552.4" font-size="36" font-weight="700" fill="#68758a" text-anchor="middle" letter-spacing="1">31</text>
<text x="95.5" y="889.9" font-size="36" font-weight="700" fill="#68758a" text-anchor="middle">1</text>
<text x="285.0" y="893.9" font-size="36" font-weight="700" fill="#68758a" text-anchor="middle">2</text>
<text x="473.0" y="893.9" font-size="36" font-weight="700" fill="#68758a" text-anchor="middle">3</text>
<text x="660.0" y="893.9" font-size="36" font-weight="700" fill="#68758a" text-anchor="middle">4</text>
<text x="847.0" y="893.9" font-size="36" font-weight="700" fill="#68758a" text-anchor="middle">5</text>
<text x="1034.4" y="893.9" font-size="36" font-weight="700" fill="#68758a" text-anchor="middle">6</text>
<text x="1220.5" y="893.9" font-size="36" font-weight="700" fill="#68758a" text-anchor="middle">7</text>
<text x="97.0" y="1220.9" font-size="36" font-weight="700" fill="#68758a" text-anchor="middle">8</text>
<text x="280.7" y="1220.9" font-size="36" font-weight="700" fill="#68758a" text-anchor="middle">9</text>
<text x="473.8" y="1220.9" font-size="36" font-weight="700" fill="#68758a" text-anchor="middle" letter-spacing="3.5">10</text>
<text x="659.2" y="1220.9" font-size="36" font-weight="700" fill="#68758a" text-anchor="middle" letter-spacing="3.5">11</text>
<text x="847.2" y="1220.9" font-size="36" font-weight="700" fill="#68758a" text-anchor="middle" letter-spacing="3.5">12</text>
<defs>
<linearGradient id="jarBody" x1="0" y1="0" x2="1" y2="0">
<stop offset="0" stop-color="#b1be9a"/><stop offset="0.2" stop-color="#cfdabe"/><stop offset="0.6" stop-color="#c7d3b3"/><stop offset="1" stop-color="#aab790"/>
</linearGradient>
<linearGradient id="jarTop" x1="0" y1="0" x2="1" y2="0">
<stop offset="0" stop-color="#a8b58f"/><stop offset="0.35" stop-color="#bdc9a5"/><stop offset="1" stop-color="#98a57e"/>
</linearGradient>
<linearGradient id="jarW" x1="0" y1="0" x2="1" y2="0">
<stop offset="0" stop-color="#c4c7b4"/><stop offset="0.25" stop-color="#e4e6d8"/><stop offset="0.7" stop-color="#d8dbc9"/><stop offset="1" stop-color="#b4b8a3"/>
</linearGradient>
<linearGradient id="jarWTop" x1="0" y1="0" x2="1" y2="0">
<stop offset="0" stop-color="#c9cdbd"/><stop offset="0.35" stop-color="#eceee4"/><stop offset="1" stop-color="#bfc3b0"/>
</linearGradient>
<linearGradient id="metal" x1="0" y1="0" x2="0" y2="1">
<stop offset="0" stop-color="#e9e9ea"/><stop offset="0.5" stop-color="#c9cacc"/><stop offset="1" stop-color="#b5b6b9"/>
</linearGradient>
<linearGradient id="handle" x1="0" y1="0" x2="0" y2="1">
<stop offset="0" stop-color="#fafafa"/><stop offset="0.6" stop-color="#e9e9ea"/><stop offset="1" stop-color="#bdbec1"/>
</linearGradient>
<linearGradient id="foil" x1="0" y1="0" x2="0" y2="1">
<stop offset="0" stop-color="#f2f2f2"/><stop offset="0.5" stop-color="#c2c3c5"/><stop offset="1" stop-color="#9d9ea1"/>
</linearGradient>
<radialGradient id="balm" cx="0.45" cy="0.4" r="0.7">
<stop offset="0" stop-color="#f7cbc0"/><stop offset="1" stop-color="#e9aa9f"/>
</radialGradient>
<linearGradient id="metal2" x1="0.3" y1="0" x2="0.6" y2="1">
<stop offset="0" stop-color="#f0f0f1"/><stop offset="0.55" stop-color="#dcdddf"/><stop offset="1" stop-color="#c4c6c9"/>
</linearGradient>
<linearGradient id="handle2" x1="0.35" y1="0" x2="0.65" y2="1">
<stop offset="0" stop-color="#fbfbfb"/><stop offset="0.55" stop-color="#ededee"/><stop offset="1" stop-color="#b9bcc2"/>
</linearGradient>
</defs>
<g id="row1">
<path d="M1195.2,614.5 L1231.0,582.7 L1231.0,600.5 L1372.5,600.5 L1372.5,628.5 L1231.0,628.5 L1231.0,646.3Z" fill="#fde4e3" stroke="#fde4e3" stroke-width="3" stroke-linejoin="round"/>
<path d="M941,761.5 C960,770 982,779 1001.5,784 C1020,789 1040,794 1077,796 C1100,797 1113,793 1111.7,787 C1110,781 1103,777 1097,774 C1087,769.5 1078,766 1068,763.5 C1058,760.5 1049,758 1041,758 C1030,758 1023,759.5 1023,763.5 C1023,767 1027,770 1032,772.5 C1040,777 1050,782.5 1059,787 C1069,791 1080,793 1090,795 C1100,797.5 1112,800.5 1122.5,803 C1134,806 1147,808.5 1158.6,810.4 C1170,812 1183,813 1198,813" fill="none" stroke="#fdeaa7" stroke-width="5.5" stroke-linecap="round"/>
<rect x="265.0" y="559.0" width="674.0" height="282.5" rx="28" ry="28" fill="#fdeaa7" stroke="#7f9f80" stroke-width="2"/>
<line x1="294.8" y1="541.5" x2="295.6" y2="560.5" stroke="#6b9080" stroke-width="6.5" stroke-linecap="round"/>
<line x1="263.5" y1="551" x2="280.5" y2="568.5" stroke="#6b9080" stroke-width="6.5" stroke-linecap="round"/>
<line x1="253" y1="578.5" x2="273.5" y2="582.5" stroke="#6b9080" stroke-width="6.5" stroke-linecap="round"/>
<text x="603.5" y="591.9" font-size="26" font-weight="400" fill="#000" text-anchor="middle" letter-spacing="0.6">\毛穴撲滅透明感ケア/</text>
<rect x="488.0" y="605.5" width="241.0" height="57.0" rx="14" ry="14" fill="#6b9080"/>
<text x="609.3" y="648.9" font-size="41.5" font-weight="700" fill="#fff" text-anchor="middle" letter-spacing="1.5">お得セット</text>
<rect x="309.5" y="676.0" width="295.0" height="92.0" rx="22" ry="22" fill="#fff"/>
<rect x="612.5" y="676.0" width="296.5" height="92.0" rx="22" ry="22" fill="#fff"/>
<text x="459.3" y="715.8" font-size="31.5" font-weight="400" fill="#000" text-anchor="middle" letter-spacing="3.9">【セット内容】</text>
<text x="458.0" y="750.5" font-size="25" font-weight="400" fill="#000" text-anchor="middle" letter-spacing="1.55">クレンザー＆スクラブ</text>
<text x="761.0" y="715.8" font-size="31.5" font-weight="400" fill="#000" text-anchor="middle" letter-spacing="3.8">【ギフト】</text>
<text x="766.0" y="751.0" font-size="25" font-weight="400" fill="#000" text-anchor="middle" letter-spacing="1.5">クーポン期間別</text>
<g stroke="#a39868" stroke-opacity="0.92" stroke-width="6" stroke-linecap="round" stroke-linejoin="round" fill="none"><path d="M380,804 L630,804"/><path d="M614.5,791.5 L631,804 L614.5,816.5"/></g>
<text x="506.0" y="812.0" font-size="25" font-weight="400" fill="#000" text-anchor="middle" letter-spacing="1.9">定価：10,200円</text>
<text x="741.5" y="821.2" font-size="50" font-weight="700" fill="#6b9080" text-anchor="middle" letter-spacing="3.1">4,932円</text>
<circle cx="943.4" cy="581" r="56" fill="#6b9080" stroke="#fdfdfc" stroke-width="6"/>
<g transform="rotate(12 943 581)">
<text x="934.0" y="600.3" font-size="72" font-weight="700" fill="#fff" text-anchor="middle" letter-spacing="1" stroke="#fff" stroke-width="2.4" stroke-linejoin="round">51</text>
<text x="986.5" y="595.7" font-size="21.5" font-weight="700" fill="#fff" text-anchor="middle" stroke="#fff" stroke-width="0.7">%</text>
<text x="940.0" y="622.6" font-size="18.5" font-weight="700" fill="#fff" text-anchor="middle" stroke="#fff" stroke-width="0.9">OFF</text>
</g>
<rect x="1195.0" y="776.5" width="170.0" height="68.5" rx="9" ry="9" fill="#fdeaa7"/>
<text x="1277.0" y="804.7" font-size="27" font-weight="700" fill="#000" text-anchor="middle" letter-spacing="1.5">メガ割開始</text>
<text x="1277.0" y="836.5" font-size="28" font-weight="700" fill="#000" text-anchor="middle" letter-spacing="1.5">17:00</text>
</g>
<g id="row2">
<rect x="66" y="1105" width="1301" height="25.3" fill="#fdeaa7"/>
<rect x="66" y="958.3" width="100" height="30" fill="#fde4e3"/>
<path d="M809.8,973.5 L777.0,941.2 L777.0,959.8 L651.5,959.8 L651.5,987.2 L777.0,987.2 L777.0,1005.8Z" fill="#fde4e3" stroke="#fde4e3" stroke-width="3" stroke-linejoin="round"/>
<path d="M818.2,975.5 L853.0,943.5 L853.0,961.8 L888.5,961.8 L888.5,989.2 L853.0,989.2 L853.0,1007.5Z" fill="#d6e5f5" stroke="#d6e5f5" stroke-width="3" stroke-linejoin="round"/>
<rect x="1335" y="946" width="38.5" height="30" fill="#d6e5f5"/>
<rect x="156.5" y="905.5" width="501.0" height="142.5" rx="25" ry="25" fill="#fde4e3" stroke="#c9807f" stroke-width="2"/>
<rect x="197.5" y="914.5" width="348.0" height="41.5" rx="11" ry="11" fill="#d27e7d"/>
<text x="211.0" y="946.3" font-size="30" font-weight="700" fill="#fff" text-anchor="start" letter-spacing="0.55">1次クーポン【ギフト】</text>
<g transform="translate(0.0 0.0)">
<path d="M193.5,963 C205,961 218,966 227,969.5 C240,975 250,983 257,989 C261,986 265,982 270.5,979 C278,975 287,971.5 297,967 C303,964 312,961 321.5,963.5 C324,968 326,975 326.5,981 C336,978 346,982 347,990 C348,996 346,999 344,1001 C348,1004 348,1012 344,1016 C340,1019 332,1019 326,1017.5 C325.5,1023 324.5,1028 323.3,1031.5 C312,1032.5 297,1029 283.7,1023.5 C272,1015 262,1009 258,1007 C250,1010 240,1014 231,1018.5 C218,1025 205,1030 193,1030.5 C191.5,1026 190.5,1022 190,1018 C184,1019.5 177,1019 174.5,1015 C171.5,1010 172,1003 175,1000 C171.5,996 172,988 175.5,984 C179,980 185,980 190,981.5 C190.5,974 191.5,968 193.5,963Z" transform="translate(3.5 5)" fill="#5e3f40" opacity="0.55" filter="url(#soft)"/>
<path d="M196,981 C186,979 178,980 175.5,984 C172,988 171.5,996 175,1000 L196,1000Z" fill="#e9e7e2"/>
<path d="M196,1000 L175,1000 C172,1003 171.5,1010 174.5,1015 C177,1019 186,1019.5 196,1017Z" fill="#e2dfd9"/>
<path d="M320,981 C332,978 346,982 347,990 C348,996 346,999 344,1001 L320,1001Z" fill="#e9e7e2"/>
<path d="M320,1001 L344,1001 C348,1004 348,1012 344,1016 C340,1019 330,1019 320,1017Z" fill="#e2dfd9"/>
<path d="M174,1000 L196,1000 M320,1001 L345,1001" stroke="#d6d1c9" stroke-width="1.4" fill="none"/>
<path d="M250,1008 L266,1008 L264,1015 L252,1015Z" fill="#e9dcc5"/>
<path d="M193.5,963 C205,961 218,966 227,969.5 C240,975 250,983 257,989 L258,1007 C250,1010 240,1014 231,1018.5 C218,1025 205,1030 193,1030.5 C189.5,1016 188.5,1002 189.5,994 C189,982 190.5,970 193.5,963Z" fill="#f7f6f2"/>
<path d="M321.5,963.5 C312,961 303,964 297,967 C287,971.5 278,975 270.5,979 C265,982 261,986 257,989 L258,1007 C262,1009 272,1015 283.7,1023.5 C297,1029 312,1032.5 323.3,1031.5 C327,1018 328.5,1005 327.3,994.6 C327,982 325,970 321.5,963.5Z" fill="#f8f7f4"/>
<path d="M257,1003 C248,1008 236,1010 226,1008 M259,1003 C268,1008 282,1013 296,1013" stroke="#dedad2" stroke-width="2.2" fill="none" opacity="0.9" filter="url(#soft1)"/>
<path d="M257,992 C248,987 238,984 228,984 M259,992 C268,986 280,982 292,981" stroke="#e6e3dc" stroke-width="2" fill="none" opacity="0.9" filter="url(#soft1)"/>
<ellipse cx="258" cy="998" rx="7.5" ry="10.5" fill="#f2f0eb"/>
<path d="M200,1016.5 L225,1016.5" stroke="#bab6b0" stroke-width="1"/>
</g>
<g transform="translate(358.5 970.0) scale(1.010 1.008)">
<ellipse cx="25" cy="61" rx="21" ry="2.2" fill="#000" opacity="0.16"/>
<path d="M3.5,30 L3.5,17 C3.8,14.5 5.5,12 7.8,10.5 C10,9.3 14,8.6 17,7.8 C21,6.6 25.5,4.8 28,3 C29.6,1.8 30.6,1 31.5,0.3 C32,1.6 32.6,2.6 33.5,3.5 C35,5 36.6,6 38,7 C40,8.3 42,9.6 43.6,11 C45.4,12.6 46.8,14.6 47.3,18 L47.3,30Z" fill="url(#jarTop)"/>
<path d="M4,18.5 C15,20.5 36,20.5 47,18.5 M3.8,22.5 C15,24.5 36,24.5 47.2,22.5 M3.8,26 C15,27.6 36,27.6 47.2,26" stroke="#8e9b74" stroke-width="0.9" opacity="0.55" fill="none"/>
<path d="M0.3,31.2 C0.3,29.8 1.2,29.2 2.6,29.2 L47.4,29.2 C48.8,29.2 49.7,29.8 49.7,31.2 L49.2,54.5 C49,59 46.5,61.5 42,61.5 L8,61.5 C3.5,61.5 1,59 0.8,54.5Z" fill="url(#jarBody)"/>
<path d="M1,33.5 C15,35.8 35,35.8 49,33.5 L49.5,31 L0.5,31Z" fill="#9eac82" opacity="0.5"/>
<path d="M6,58 L44,58 C43.5,60.3 42,61.5 40,61.5 L10,61.5 C8,61.5 6.5,60.3 6,58Z" fill="#eef0e6" opacity="0.9"/>
</g>
<text x="533.5" y="994.7" font-size="21.5" font-weight="400" fill="#000" text-anchor="middle" letter-spacing="1.0">パックスクラブミニ</text>
<text x="532.0" y="1022.7" font-size="21.5" font-weight="400" fill="#000" text-anchor="middle" letter-spacing="1.15">プレミアムヘアバンド</text>
<path d="M637.8,888.2 L655.8,900.7 L681.5,899.3 L683.6,911.8 L711.4,917.4 L699.6,930.6 L721.1,938.9 L697.5,944.4 L707.9,958.3 L679.4,956.9 L673.9,969.4 L651.7,961.8 L629.4,970.8 L614.2,958.3 L585.0,959.7 L583.6,945.8 L555.8,940.3 L568.3,930.6 L548.2,920.1 L569.0,915.3 L559.3,900.7 L587.8,902.8 L591.9,889.6 L618.3,896.5Z" fill="#d27e7d" stroke="#d27e7d" stroke-width="0.8" stroke-linejoin="miter"/>
<text x="635.7" y="917.4" font-size="15.6" font-weight="400" fill="#fff" text-anchor="middle" letter-spacing="0.4" transform="rotate(8.5 635.7 911.8)">\数量限定/</text>
<text x="633.6" y="947.6" font-size="30.5" font-weight="700" fill="#fff" text-anchor="middle" letter-spacing="0.3" transform="rotate(8.5 633.6 936.8)">1,000個</text>
<rect x="880.5" y="901.5" width="460.5" height="144.0" rx="25" ry="25" fill="#d6e5f5" stroke="#9dc3e6" stroke-width="2"/>
<rect x="894.5" y="910.0" width="348.0" height="43.0" rx="11" ry="11" fill="#8fc1e1"/>
<text x="906.5" y="942.3" font-size="30" font-weight="700" fill="#fff" text-anchor="start" letter-spacing="0.9">2次クーポン【ギフト】</text>
<g transform="translate(0 0)">
<path d="M926,1006 C922,1012 924,1021 932,1024 L980,1002 L1040,987 L1046,978 L976,999Z" fill="#4d6a8c" opacity="0.45" filter="url(#soft)"/>
<path d="M970.5,985.8 L1020,962 C1028,958.2 1036,957 1041,960 C1048,964 1049.5,971.5 1046.5,977 C1044,981 1040,983.5 1036,985 L977.5,999Z" fill="url(#metal2)"/>
<path d="M928,999.6 C922,1002 918.8,1008 920.6,1014 C922.6,1020.3 928.5,1023 934.5,1020.6 L976.2,998.6 L969.2,986.2Z" fill="url(#handle2)"/>
<path d="M969.2,986.2 L976.2,998.6" stroke="#fdfdfd" stroke-width="2.2"/>
<path d="M937,1010.5 L954,1003" stroke="#c9cbcf" stroke-width="0.9"/>
</g>
<g transform="translate(1051.0 966.0) scale(1.010 1.008)">
<ellipse cx="25" cy="61" rx="21" ry="2.2" fill="#000" opacity="0.16"/>
<path d="M3.5,30 L3.5,17 C3.8,14.5 5.5,12 7.8,10.5 C10,9.3 14,8.6 17,7.8 C21,6.6 25.5,4.8 28,3 C29.6,1.8 30.6,1 31.5,0.3 C32,1.6 32.6,2.6 33.5,3.5 C35,5 36.6,6 38,7 C40,8.3 42,9.6 43.6,11 C45.4,12.6 46.8,14.6 47.3,18 L47.3,30Z" fill="url(#jarTop)"/>
<path d="M4,18.5 C15,20.5 36,20.5 47,18.5 M3.8,22.5 C15,24.5 36,24.5 47.2,22.5 M3.8,26 C15,27.6 36,27.6 47.2,26" stroke="#8e9b74" stroke-width="0.9" opacity="0.55" fill="none"/>
<path d="M0.3,31.2 C0.3,29.8 1.2,29.2 2.6,29.2 L47.4,29.2 C48.8,29.2 49.7,29.8 49.7,31.2 L49.2,54.5 C49,59 46.5,61.5 42,61.5 L8,61.5 C3.5,61.5 1,59 0.8,54.5Z" fill="url(#jarBody)"/>
<path d="M1,33.5 C15,35.8 35,35.8 49,33.5 L49.5,31 L0.5,31Z" fill="#9eac82" opacity="0.5"/>
<path d="M6,58 L44,58 C43.5,60.3 42,61.5 40,61.5 L10,61.5 C8,61.5 6.5,60.3 6,58Z" fill="#eef0e6" opacity="0.9"/>
</g>
<text x="1208.5" y="995.7" font-size="21.5" font-weight="400" fill="#000" text-anchor="middle" letter-spacing="1.1">パックスクラブミニ</text>
<text x="1202.0" y="1019.7" font-size="21.5" font-weight="400" fill="#000" text-anchor="middle" letter-spacing="1.15">バタースプレッド</text>
<path d="M1304.3,883.5 L1322.3,896.0 L1348.0,894.6 L1350.1,907.1 L1377.9,912.7 L1366.1,925.9 L1387.6,934.2 L1364.0,939.7 L1374.4,953.6 L1345.9,952.2 L1340.4,964.7 L1318.2,957.1 L1295.9,966.1 L1280.7,953.6 L1251.5,955.0 L1250.1,941.1 L1222.3,935.6 L1234.8,925.9 L1214.7,915.4 L1235.5,910.6 L1225.8,896.0 L1254.3,898.1 L1258.4,884.9 L1284.8,891.8Z" fill="#8fc1e1" stroke="#8fc1e1" stroke-width="0.8" stroke-linejoin="miter"/>
<text x="1302.2" y="912.7" font-size="15.6" font-weight="400" fill="#fff" text-anchor="middle" letter-spacing="0.4" transform="rotate(8.5 1302.2 907.1)">\数量限定/</text>
<text x="1300.1" y="942.9" font-size="30.5" font-weight="700" fill="#fff" text-anchor="middle" letter-spacing="0.3" transform="rotate(8.5 1300.1 932.1)">1,000個</text>
</g>
<g id="row3">
<path d="M66,1497.3 L1000,1493.3 L1000,1518.8 L66,1522Z" fill="#fdeaa7"/>
<rect x="819.5" y="1487.0" width="178.0" height="38.0" rx="9" ry="9" fill="#fdeaa7"/>
<text x="900.5" y="1514.9" font-size="27.5" font-weight="700" fill="#000" text-anchor="middle" letter-spacing="0.8">メガ割終了</text>
<path d="M245.8,1316.7 L209.5,1284.9 L209.5,1303.2 L65.5,1303.2 L65.5,1330.2 L209.5,1330.2 L209.5,1348.5Z" fill="#d6e5f5" stroke="#d6e5f5" stroke-width="3" stroke-linejoin="round"/>
<path d="M255.5,1316.5 L290.5,1284.5 L290.5,1303.0 L378.5,1303.0 L378.5,1330.0 L290.5,1330.0 L290.5,1348.5Z" fill="#c8e6db" stroke="#c8e6db" stroke-width="3" stroke-linejoin="round"/>
<path d="M995.8,1316.3 L959.0,1284.2 L959.0,1302.3 L851.5,1302.3 L851.5,1330.3 L959.0,1330.3 L959.0,1348.3Z" fill="#c8e6db" stroke="#c8e6db" stroke-width="3" stroke-linejoin="round"/>
<rect x="364.5" y="1238.5" width="502.0" height="142.5" rx="25" ry="25" fill="#c8e6db" stroke="#6b9080" stroke-width="2"/>
<rect x="394.0" y="1246.3" width="348.5" height="42.5" rx="11" ry="11" fill="#668d7d"/>
<text x="406.0" y="1278.3" font-size="30" font-weight="700" fill="#fff" text-anchor="start" letter-spacing="0.85">3次クーポン【ギフト】</text>
<g transform="translate(379.0 1296.0) scale(1.000 1.000)">
<ellipse cx="27.5" cy="70" rx="24" ry="2.8" fill="#000" opacity="0.2"/>
<path d="M6,34 C4,25 10,19 17,15 C22,12 25,6 24,0.5 C31,3 36,8 40,13 C46,17 51,24 49,34Z" fill="url(#jarWTop)"/>
<path d="M12,24 C20,26 32,22 38,14 M8,30 C20,33 38,30 46,22 M20,13 C25,14 30,11 31,7" stroke="#b3b7a4" stroke-width="1.2" fill="none" opacity="0.8"/>
<path d="M2,37 C2,34.5 3.5,34 6,34 L49,34 C51.5,34 53,34.5 53,37 L53,65 C53,69 51,70.5 47,70.5 L8,70.5 C4,70.5 2,69 2,65Z" fill="url(#jarW)"/>
<path d="M4,64.5 L51,64.5 C51,68.5 49.5,70.5 47,70.5 L8,70.5 C5.5,70.5 4,68.5 4,64.5Z" fill="#f1f2ea" opacity="0.8"/>
</g>
<g transform="translate(440.0 1296.0) scale(1.200 1.177)">
<ellipse cx="25" cy="61" rx="21" ry="2.2" fill="#000" opacity="0.16"/>
<path d="M3.5,30 L3.5,17 C3.8,14.5 5.5,12 7.8,10.5 C10,9.3 14,8.6 17,7.8 C21,6.6 25.5,4.8 28,3 C29.6,1.8 30.6,1 31.5,0.3 C32,1.6 32.6,2.6 33.5,3.5 C35,5 36.6,6 38,7 C40,8.3 42,9.6 43.6,11 C45.4,12.6 46.8,14.6 47.3,18 L47.3,30Z" fill="url(#jarTop)"/>
<path d="M4,18.5 C15,20.5 36,20.5 47,18.5 M3.8,22.5 C15,24.5 36,24.5 47.2,22.5 M3.8,26 C15,27.6 36,27.6 47.2,26" stroke="#8e9b74" stroke-width="0.9" opacity="0.55" fill="none"/>
<path d="M0.3,31.2 C0.3,29.8 1.2,29.2 2.6,29.2 L47.4,29.2 C48.8,29.2 49.7,29.8 49.7,31.2 L49.2,54.5 C49,59 46.5,61.5 42,61.5 L8,61.5 C3.5,61.5 1,59 0.8,54.5Z" fill="url(#jarBody)"/>
<path d="M1,33.5 C15,35.8 35,35.8 49,33.5 L49.5,31 L0.5,31Z" fill="#9eac82" opacity="0.5"/>
<path d="M6,58 L44,58 C43.5,60.3 42,61.5 40,61.5 L10,61.5 C8,61.5 6.5,60.3 6,58Z" fill="#eef0e6" opacity="0.9"/>
</g>
<text x="660.5" y="1330.7" font-size="21.5" font-weight="400" fill="#000" text-anchor="middle" letter-spacing="0.8">パックスクラブミニ</text>
<text x="670.5" y="1357.7" font-size="21.5" font-weight="400" fill="#000" text-anchor="middle" letter-spacing="0.6">ミニパッククレンザーマグツリー</text>
<path d="M840.3,1225.2 L858.3,1237.7 L884.0,1236.3 L886.1,1248.8 L913.9,1254.4 L902.1,1267.6 L923.6,1275.9 L900.0,1281.4 L910.4,1295.3 L881.9,1293.9 L876.4,1306.4 L854.2,1298.8 L831.9,1307.8 L816.7,1295.3 L787.5,1296.7 L786.1,1282.8 L758.3,1277.3 L770.8,1267.6 L750.7,1257.1 L771.5,1252.3 L761.8,1237.7 L790.3,1239.8 L794.4,1226.6 L820.8,1233.5Z" fill="#668d7d" stroke="#668d7d" stroke-width="0.8" stroke-linejoin="miter"/>
<text x="838.2" y="1254.4" font-size="15.6" font-weight="400" fill="#fff" text-anchor="middle" letter-spacing="0.4" transform="rotate(8.5 838.2 1248.8)">\数量限定/</text>
<text x="836.1" y="1284.6" font-size="30.5" font-weight="700" fill="#fff" text-anchor="middle" letter-spacing="0.3" transform="rotate(8.5 836.1 1273.8)">1,000個</text>
</g>
<g id="shop">
<rect x="1026.5" y="1195.0" width="380.5" height="326.5" rx="25" ry="25" fill="#fffbea" stroke="#d9b0ae" stroke-width="2.5"/>
<rect x="1077.5" y="1213.5" width="282.5" height="57.0" rx="17" ry="17" fill="#dca4ad"/>
<text x="1218.5" y="1257.8" font-size="42.5" font-weight="700" fill="#fff" text-anchor="middle" letter-spacing="-1">ショップ特典</text>
<g transform="rotate(6.5 1277 1348)">
<rect x="1215" y="1285" width="125" height="127" rx="9" fill="#e6a6ae"/>
<circle cx="1277" cy="1352" r="46" fill="none" stroke="#eab4ba" stroke-width="1.2"/>
<text x="1229.0" y="1310.1" font-size="11.5" font-weight="700" fill="#222" text-anchor="start" letter-spacing="-0.6">WHIPPED</text>
<text x="1229" y="1325" font-size="5.2" font-weight="700" fill="#3a2a2c" style="font-family:'Liberation Mono',monospace">Muhwabutter vegan</text>
<text x="1229" y="1333" font-size="5.2" font-weight="700" fill="#3a2a2c" style="font-family:'Liberation Mono',monospace">caramel cleansing balm</text>
<text x="1229" y="1366" font-size="4.4" font-weight="700" fill="#3a2a2c" style="font-family:'Liberation Sans','Noto Sans CJK KR',sans-serif">휩드 무화버터 비건 캐러멜 클렌징밤</text>
<text x="1229" y="1374" font-size="4" fill="#3a2a2c">Net. 0.1 fl. oz. 3 ml</text>
<text x="1229" y="1381" font-size="4" fill="#3a2a2c" style="font-family:'Liberation Sans','Noto Sans CJK KR',sans-serif">화장품책임판매업자 주식회사 세모컴퍼니</text>
<text x="1229" y="1388" font-size="4" fill="#3a2a2c" style="font-family:'Liberation Sans','Noto Sans CJK KR',sans-serif">제조번호 및 사용기한 별도표기</text>
<text x="1229" y="1400" font-size="4.2" fill="#3a2a2c">Made in Korea | whipped.co.kr</text>
<rect x="1308" y="1368" width="18" height="34" fill="#fff"/>
<rect x="1309.5" y="1369.50" width="12" height="1.2" fill="#222"/>
<rect x="1309.5" y="1371.75" width="12" height="0.6" fill="#222"/>
<rect x="1309.5" y="1374.00" width="12" height="1.0" fill="#222"/>
<rect x="1309.5" y="1376.25" width="12" height="0.5" fill="#222"/>
<rect x="1309.5" y="1378.50" width="12" height="1.4" fill="#222"/>
<rect x="1309.5" y="1380.75" width="12" height="0.6" fill="#222"/>
<rect x="1309.5" y="1383.00" width="12" height="0.9" fill="#222"/>
<rect x="1309.5" y="1385.25" width="12" height="0.5" fill="#222"/>
<rect x="1309.5" y="1387.50" width="12" height="1.2" fill="#222"/>
<rect x="1309.5" y="1389.75" width="12" height="0.7" fill="#222"/>
<rect x="1309.5" y="1392.00" width="12" height="1.0" fill="#222"/>
<rect x="1309.5" y="1394.25" width="12" height="0.5" fill="#222"/>
<rect x="1309.5" y="1396.50" width="12" height="1.3" fill="#222"/>
<rect x="1309.5" y="1398.75" width="12" height="0.6" fill="#222"/>
</g>
<g>
<path d="M1082.5,1320 C1082,1315 1085,1312.5 1090,1311.5 L1184,1296.5 C1189,1296 1192,1298 1193,1303 L1198,1340 L1090,1372Z" fill="#e5a5ad"/>
<text x="1091.0" y="1330.8" font-size="10.5" font-weight="700" fill="#222" text-anchor="start" letter-spacing="-0.5" transform="rotate(-9 1091.0 1327.0)">WH</text>
<path d="M1102,1432 L1209,1412 L1209,1405 L1102,1425Z" fill="#000" opacity="0.25" filter="url(#soft)"/>
<path d="M1087.5,1349 C1087,1345 1089,1343 1093,1342 L1146,1297.5 L1198,1334 C1200.5,1335 1201.5,1337 1202,1340 L1208,1403 C1208.5,1408 1206,1410.5 1202,1411.5 L1108,1430 C1103,1431 1100,1429 1099.5,1424Z" fill="#f6f6f6"/>
<path d="M1094,1343 L1146,1299 L1197,1335" fill="none" stroke="#dedede" stroke-width="1.2"/>
<circle cx="1144.5" cy="1359" r="47" fill="#ececec"/>
<circle cx="1144.5" cy="1359" r="42" fill="url(#balm)"/>
<path d="M1094,1343 L1146,1297.5 L1198,1334 L1196,1352 C1170,1338 1130,1334 1104,1346Z" fill="#fbfbfb"/>
<path d="M1104,1343 C1128,1330 1170,1332 1213,1349 C1218,1352 1217,1362 1211,1364 C1175,1352 1135,1346 1108,1356 C1102,1353 1101,1346 1104,1343Z" fill="url(#foil)"/>
</g>
<text x="1220.5" y="1445.5" font-size="14" font-weight="400" fill="#111" text-anchor="middle" letter-spacing="0.25">WHIPPEDのショップギフトで</text>
<text x="1221.0" y="1464.6" font-size="14.2" font-weight="400" fill="#111" text-anchor="middle" letter-spacing="0.3">3,000円以上購入者に</text>
<text x="1214.0" y="1486.6" font-size="17" font-weight="700" fill="#000" text-anchor="middle" letter-spacing="0.25">ホイップドキャラメルクレンジングバーム2個</text>
<text x="1222.0" y="1507.6" font-size="14.2" font-weight="400" fill="#111" text-anchor="middle" letter-spacing="0.2">プレゼント!ナラコラボ購入者は全員対象!</text>
</g>
<g id="notes">
<rect x="68.0" y="1569.0" width="1311.0" height="163.0" rx="24" ry="24" fill="#fff" stroke="#000" stroke-width="4"/>
<path d="M155,1602.5 L124,1602.5 Q121.5,1602.5 121.5,1605 L121.5,1637 Q121.5,1639.5 124,1639.5 L156,1639.5 Q158.5,1639.5 158.5,1637 L158.5,1622.5" fill="none" stroke="#111" stroke-width="5" stroke-linecap="butt" stroke-linejoin="round"/>
<path d="M129.5,1620.5 L140.5,1631.5 L164,1609" fill="none" stroke="#111" stroke-width="8.5" stroke-linecap="butt" stroke-linejoin="miter"/>
<path d="M155,1663.0 L124,1663.0 Q121.5,1663.0 121.5,1665.5 L121.5,1697.5 Q121.5,1700.0 124,1700.0 L156,1700.0 Q158.5,1700.0 158.5,1697.5 L158.5,1683.0" fill="none" stroke="#111" stroke-width="5" stroke-linecap="butt" stroke-linejoin="round"/>
<path d="M129.5,1681.0 L140.5,1692.0 L164,1669.5" fill="none" stroke="#111" stroke-width="8.5" stroke-linecap="butt" stroke-linejoin="miter"/>
<text x="189.0" y="1633.1" font-size="36.4" font-weight="400" fill="#000" text-anchor="start" letter-spacing="0.22">クーポン期間でギフトが変わるから購入タイミングには注意!</text>
<text x="191.5" y="1693.1" font-size="36.4" font-weight="400" fill="#000" text-anchor="start" letter-spacing="0.45">3,000円以上購入のショップギフトは、ナラコラボ購入者は全員対象!</text>
</g>
</svg>
</div>
</body>
</html>
